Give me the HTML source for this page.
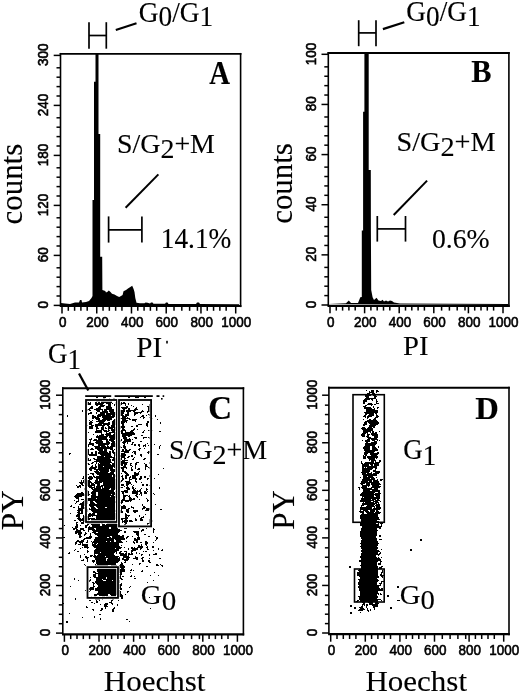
<!DOCTYPE html>
<html><head><meta charset="utf-8"><style>
html,body{margin:0;padding:0;background:#fff;overflow:hidden;}
svg{display:block;filter:grayscale(1);}
</style></head><body>
<svg width="520" height="694" viewBox="0 0 520 694">
<rect width="520" height="694" fill="#fff"/>
<g transform="matrix(0.9763 0 0 1.0298 -251.685 -287.328)"><text x="400" y="300" font-family="Liberation Serif" font-size="28" font-weight="normal" stroke="#000" stroke-width="0.12">G<tspan dy="4.6">0</tspan><tspan dy="-4.6">/G</tspan><tspan dy="4.6">1</tspan></text></g>
<g transform="matrix(0.9736 0 0 1.0340 16.903 -289.324)"><text x="400" y="300" font-family="Liberation Serif" font-size="28" font-weight="normal" stroke="#000" stroke-width="0.12">G<tspan dy="4.6">0</tspan><tspan dy="-4.6">/G</tspan><tspan dy="4.6">1</tspan></text></g>
<g transform="matrix(1.0341 0 0 1.0000 -296.668 -146.800)"><text x="400" y="300" font-family="Liberation Serif" font-size="27" font-weight="normal" stroke="#000" stroke-width="0.12">S/G<tspan dy="5">2</tspan><tspan dy="-5">+M</tspan></text></g>
<g transform="matrix(1.0461 0 0 1.0043 -21.959 -150.026)"><text x="400" y="300" font-family="Liberation Serif" font-size="27" font-weight="normal" stroke="#000" stroke-width="0.12">S/G<tspan dy="5">2</tspan><tspan dy="-5">+M</tspan></text></g>
<g transform="matrix(1.0385 0 0 1.0217 -246.510 152.070)"><text x="400" y="300" font-family="Liberation Serif" font-size="27" font-weight="normal" stroke="#000" stroke-width="0.12">S/G<tspan dy="5">2</tspan><tspan dy="-5">+M</tspan></text></g>
<g transform="matrix(0.9926 0 0 1.0526 -236.192 -67.316)"><text x="400" y="300" font-family="Liberation Serif" font-size="27.5" font-weight="normal" stroke="#000" stroke-width="0.12">14.1%</text></g>
<g transform="matrix(1.0090 0 0 0.9737 28.287 -44.592)"><text x="400" y="300" font-family="Liberation Serif" font-size="27.5" font-weight="normal" stroke="#000" stroke-width="0.12">0.6%</text></g>
<g transform="matrix(0.9273 0 0 1.0780 -161.741 -239.115)"><text x="400" y="300" font-family="Liberation Serif" font-size="31" font-weight="bold" stroke="#000" stroke-width="0.12">A</text></g>
<g transform="matrix(0.9795 0 0 1.0265 79.515 -225.708)"><text x="400" y="300" font-family="Liberation Serif" font-size="31" font-weight="bold" stroke="#000" stroke-width="0.12">B</text></g>
<g transform="matrix(1.0649 0 0 1.0571 -217.743 102.029)"><text x="400" y="300" font-family="Liberation Serif" font-size="31" font-weight="bold" stroke="#000" stroke-width="0.12">C</text></g>
<g transform="matrix(1.0537 0 0 1.0265 53.810 110.592)"><text x="400" y="300" font-family="Liberation Serif" font-size="31" font-weight="bold" stroke="#000" stroke-width="0.12">D</text></g>
<g transform="matrix(1.0417 0 0 0.9962 -394.688 -74.465)"><text x="400" y="300" font-family="Liberation Serif" font-size="31" font-weight="normal" transform="rotate(-90 400 300)" stroke="#000" stroke-width="0.12">counts</text></g>
<g transform="matrix(0.9944 0 0 0.9962 -105.475 -75.065)"><text x="400" y="300" font-family="Liberation Serif" font-size="31" font-weight="normal" transform="rotate(-90 400 300)" stroke="#000" stroke-width="0.12">counts</text></g>
<g transform="matrix(0.9878 0 0 1.0256 -258.843 49.308)"><text x="400" y="300" font-family="Liberation Serif" font-size="29.5" font-weight="normal" stroke="#000" stroke-width="0.12">PI</text></g>
<g transform="matrix(0.9714 0 0 0.9487 14.500 70.885)"><text x="400" y="300" font-family="Liberation Serif" font-size="29.5" font-weight="normal" stroke="#000" stroke-width="0.12">PI</text></g>
<g transform="matrix(1.0338 0 0 1.0000 -309.714 391.500)"><text x="400" y="300" font-family="Liberation Serif" font-size="30" font-weight="normal" stroke="#000" stroke-width="0.12">Hoechst</text></g>
<g transform="matrix(1.0338 0 0 1.0000 -48.114 391.500)"><text x="400" y="300" font-family="Liberation Serif" font-size="30" font-weight="normal" stroke="#000" stroke-width="0.12">Hoechst</text></g>
<g transform="matrix(1.0190 0 0 0.9772 -384.319 236.968)"><text x="400" y="300" font-family="Liberation Serif" font-size="32" font-weight="normal" transform="rotate(-90 400 300)" stroke="#000" stroke-width="0.12">PY</text></g>
<g transform="matrix(1.0048 0 0 0.9646 -108.305 240.356)"><text x="400" y="300" font-family="Liberation Serif" font-size="32" font-weight="normal" transform="rotate(-90 400 300)" stroke="#000" stroke-width="0.12">PY</text></g>
<g transform="matrix(1.0000 0 0 1.0538 -352.000 47.339)"><text x="400" y="300" font-family="Liberation Serif" font-size="27" font-weight="normal" stroke="#000" stroke-width="0.12">G<tspan dy="5.3">1</tspan></text></g>
<g transform="matrix(1.0774 0 0 1.0426 -290.145 291.200)"><text x="400" y="300" font-family="Liberation Serif" font-size="27" font-weight="normal" stroke="#000" stroke-width="0.12">G<tspan dy="5.3">0</tspan></text></g>
<g transform="matrix(1.0000 0 0 1.0581 3.300 141.626)"><text x="400" y="300" font-family="Liberation Serif" font-size="27" font-weight="normal" stroke="#000" stroke-width="0.12">G<tspan dy="5.3">1</tspan></text></g>
<g transform="matrix(1.0645 0 0 1.0426 -26.071 291.200)"><text x="400" y="300" font-family="Liberation Serif" font-size="27" font-weight="normal" stroke="#000" stroke-width="0.12">G<tspan dy="5.3">0</tspan></text></g>
<line x1="59.70" y1="53.90" x2="241.40" y2="53.90" stroke="#000" stroke-width="1.9"/>
<line x1="60.50" y1="52.95" x2="60.50" y2="306.00" stroke="#000" stroke-width="1.6"/>
<line x1="240.60" y1="52.95" x2="240.60" y2="307.10" stroke="#000" stroke-width="1.6"/>
<line x1="59.70" y1="306.00" x2="241.40" y2="306.00" stroke="#000" stroke-width="2.2"/>
<line x1="62.00" y1="306.00" x2="62.00" y2="313.50" stroke="#000" stroke-width="1.5"/>
<g transform="matrix(0.9300 0 0 1.0300 -312.920 17.615)"><text x="400" y="300" font-family="Liberation Sans" font-size="14.5" font-weight="normal" stroke="#000" stroke-width="0.6">0</text></g>
<line x1="68.30" y1="306.00" x2="68.30" y2="310.80" stroke="#000" stroke-width="1.5"/>
<line x1="74.60" y1="306.00" x2="74.60" y2="310.80" stroke="#000" stroke-width="1.5"/>
<line x1="80.90" y1="306.00" x2="80.90" y2="310.80" stroke="#000" stroke-width="1.5"/>
<line x1="87.20" y1="306.00" x2="87.20" y2="310.80" stroke="#000" stroke-width="1.5"/>
<line x1="96.74" y1="306.00" x2="96.74" y2="313.50" stroke="#000" stroke-width="1.5"/>
<g transform="matrix(0.9300 0 0 1.0300 -285.852 17.615)"><text x="400" y="300" font-family="Liberation Sans" font-size="14.5" font-weight="normal" stroke="#000" stroke-width="0.6">200</text></g>
<line x1="103.04" y1="306.00" x2="103.04" y2="310.80" stroke="#000" stroke-width="1.5"/>
<line x1="109.34" y1="306.00" x2="109.34" y2="310.80" stroke="#000" stroke-width="1.5"/>
<line x1="115.64" y1="306.00" x2="115.64" y2="310.80" stroke="#000" stroke-width="1.5"/>
<line x1="121.94" y1="306.00" x2="121.94" y2="310.80" stroke="#000" stroke-width="1.5"/>
<line x1="131.48" y1="306.00" x2="131.48" y2="313.50" stroke="#000" stroke-width="1.5"/>
<g transform="matrix(0.9300 0 0 1.0300 -250.880 17.615)"><text x="400" y="300" font-family="Liberation Sans" font-size="14.5" font-weight="normal" stroke="#000" stroke-width="0.6">400</text></g>
<line x1="137.78" y1="306.00" x2="137.78" y2="310.80" stroke="#000" stroke-width="1.5"/>
<line x1="144.08" y1="306.00" x2="144.08" y2="310.80" stroke="#000" stroke-width="1.5"/>
<line x1="150.38" y1="306.00" x2="150.38" y2="310.80" stroke="#000" stroke-width="1.5"/>
<line x1="156.68" y1="306.00" x2="156.68" y2="310.80" stroke="#000" stroke-width="1.5"/>
<line x1="166.22" y1="306.00" x2="166.22" y2="313.50" stroke="#000" stroke-width="1.5"/>
<g transform="matrix(0.9300 0 0 1.0300 -216.373 17.615)"><text x="400" y="300" font-family="Liberation Sans" font-size="14.5" font-weight="normal" stroke="#000" stroke-width="0.6">600</text></g>
<line x1="174.02" y1="306.00" x2="174.02" y2="310.80" stroke="#000" stroke-width="1.5"/>
<line x1="181.82" y1="306.00" x2="181.82" y2="310.80" stroke="#000" stroke-width="1.5"/>
<line x1="189.62" y1="306.00" x2="189.62" y2="310.80" stroke="#000" stroke-width="1.5"/>
<line x1="197.42" y1="306.00" x2="197.42" y2="310.80" stroke="#000" stroke-width="1.5"/>
<line x1="200.96" y1="306.00" x2="200.96" y2="313.50" stroke="#000" stroke-width="1.5"/>
<g transform="matrix(0.9300 0 0 1.0300 -181.516 17.615)"><text x="400" y="300" font-family="Liberation Sans" font-size="14.5" font-weight="normal" stroke="#000" stroke-width="0.6">800</text></g>
<line x1="207.26" y1="306.00" x2="207.26" y2="310.80" stroke="#000" stroke-width="1.5"/>
<line x1="213.56" y1="306.00" x2="213.56" y2="310.80" stroke="#000" stroke-width="1.5"/>
<line x1="219.86" y1="306.00" x2="219.86" y2="310.80" stroke="#000" stroke-width="1.5"/>
<line x1="226.16" y1="306.00" x2="226.16" y2="310.80" stroke="#000" stroke-width="1.5"/>
<line x1="235.70" y1="306.00" x2="235.70" y2="313.50" stroke="#000" stroke-width="1.5"/>
<g transform="matrix(0.9300 0 0 1.0300 -150.729 17.615)"><text x="400" y="300" font-family="Liberation Sans" font-size="14.5" font-weight="normal" stroke="#000" stroke-width="0.6">1000</text></g>
<line x1="53.70" y1="305.40" x2="60.50" y2="305.40" stroke="#000" stroke-width="1.5"/>
<g transform="matrix(1.0300 0 0 0.9300 -364.415 29.520)"><text x="400" y="300" font-family="Liberation Sans" font-size="14.5" font-weight="normal" transform="rotate(-90 400 300)" stroke="#000" stroke-width="0.6">0</text></g>
<line x1="56.50" y1="296.00" x2="60.50" y2="296.00" stroke="#000" stroke-width="1.5"/>
<line x1="56.50" y1="286.60" x2="60.50" y2="286.60" stroke="#000" stroke-width="1.5"/>
<line x1="56.50" y1="277.20" x2="60.50" y2="277.20" stroke="#000" stroke-width="1.5"/>
<line x1="56.50" y1="267.80" x2="60.50" y2="267.80" stroke="#000" stroke-width="1.5"/>
<line x1="53.70" y1="255.40" x2="60.50" y2="255.40" stroke="#000" stroke-width="1.5"/>
<g transform="matrix(1.0300 0 0 0.9300 -364.415 -16.644)"><text x="400" y="300" font-family="Liberation Sans" font-size="14.5" font-weight="normal" transform="rotate(-90 400 300)" stroke="#000" stroke-width="0.6">60</text></g>
<line x1="56.50" y1="246.00" x2="60.50" y2="246.00" stroke="#000" stroke-width="1.5"/>
<line x1="56.50" y1="236.60" x2="60.50" y2="236.60" stroke="#000" stroke-width="1.5"/>
<line x1="56.50" y1="227.20" x2="60.50" y2="227.20" stroke="#000" stroke-width="1.5"/>
<line x1="56.50" y1="217.80" x2="60.50" y2="217.80" stroke="#000" stroke-width="1.5"/>
<line x1="53.70" y1="205.40" x2="60.50" y2="205.40" stroke="#000" stroke-width="1.5"/>
<g transform="matrix(1.0300 0 0 0.9300 -364.415 -62.691)"><text x="400" y="300" font-family="Liberation Sans" font-size="14.5" font-weight="normal" transform="rotate(-90 400 300)" stroke="#000" stroke-width="0.6">120</text></g>
<line x1="56.50" y1="196.00" x2="60.50" y2="196.00" stroke="#000" stroke-width="1.5"/>
<line x1="56.50" y1="186.60" x2="60.50" y2="186.60" stroke="#000" stroke-width="1.5"/>
<line x1="56.50" y1="177.20" x2="60.50" y2="177.20" stroke="#000" stroke-width="1.5"/>
<line x1="56.50" y1="167.80" x2="60.50" y2="167.80" stroke="#000" stroke-width="1.5"/>
<line x1="53.70" y1="155.40" x2="60.50" y2="155.40" stroke="#000" stroke-width="1.5"/>
<g transform="matrix(1.0300 0 0 0.9300 -364.415 -112.691)"><text x="400" y="300" font-family="Liberation Sans" font-size="14.5" font-weight="normal" transform="rotate(-90 400 300)" stroke="#000" stroke-width="0.6">180</text></g>
<line x1="56.50" y1="146.00" x2="60.50" y2="146.00" stroke="#000" stroke-width="1.5"/>
<line x1="56.50" y1="136.60" x2="60.50" y2="136.60" stroke="#000" stroke-width="1.5"/>
<line x1="56.50" y1="127.20" x2="60.50" y2="127.20" stroke="#000" stroke-width="1.5"/>
<line x1="56.50" y1="117.80" x2="60.50" y2="117.80" stroke="#000" stroke-width="1.5"/>
<line x1="53.70" y1="105.40" x2="60.50" y2="105.40" stroke="#000" stroke-width="1.5"/>
<g transform="matrix(1.0300 0 0 0.9300 -364.415 -162.807)"><text x="400" y="300" font-family="Liberation Sans" font-size="14.5" font-weight="normal" transform="rotate(-90 400 300)" stroke="#000" stroke-width="0.6">240</text></g>
<line x1="56.50" y1="96.00" x2="60.50" y2="96.00" stroke="#000" stroke-width="1.5"/>
<line x1="56.50" y1="86.60" x2="60.50" y2="86.60" stroke="#000" stroke-width="1.5"/>
<line x1="56.50" y1="77.20" x2="60.50" y2="77.20" stroke="#000" stroke-width="1.5"/>
<line x1="56.50" y1="67.80" x2="60.50" y2="67.80" stroke="#000" stroke-width="1.5"/>
<line x1="53.70" y1="55.40" x2="60.50" y2="55.40" stroke="#000" stroke-width="1.5"/>
<g transform="matrix(1.0300 0 0 0.9300 -364.415 -212.924)"><text x="400" y="300" font-family="Liberation Sans" font-size="14.5" font-weight="normal" transform="rotate(-90 400 300)" stroke="#000" stroke-width="0.6">300</text></g>
<polygon points="61.00,305.00 61.00,303.00 65.00,303.50 70.00,304.00 75.00,302.50 79.00,302.50 80.00,300.00 81.50,300.00 82.00,302.50 86.00,302.00 89.00,301.00 91.50,298.00 92.50,296.00 92.50,200.00 94.00,200.00 94.00,81.80 95.50,81.80 95.50,54.00 98.50,54.00 98.50,134.00 100.20,134.00 100.20,256.70 102.20,256.70 102.40,290.00 105.30,291.00 105.80,292.30 107.00,292.30 108.80,290.40 110.50,292.00 112.00,293.80 114.50,294.60 117.00,296.00 119.20,297.00 121.00,296.00 122.60,295.00 123.50,291.20 126.00,290.00 128.00,288.50 130.70,286.70 132.20,285.80 133.60,289.00 134.50,292.00 135.30,298.00 136.50,302.70 140.00,303.30 144.50,303.30 145.50,302.50 147.50,302.80 150.00,303.60 151.00,302.60 152.50,302.60 153.50,303.80 165.00,303.80 166.00,302.60 167.50,302.60 168.50,304.00 196.00,304.00 197.00,302.60 199.00,302.60 200.00,304.00 239.00,304.20 239.00,305.00" fill="#000"/>
<line x1="108.60" y1="216.40" x2="108.60" y2="242.60" stroke="#000" stroke-width="1.7"/>
<line x1="141.90" y1="216.40" x2="141.90" y2="242.60" stroke="#000" stroke-width="1.7"/>
<line x1="108.60" y1="229.90" x2="141.90" y2="229.90" stroke="#000" stroke-width="1.7"/>
<line x1="125.60" y1="207.80" x2="158.40" y2="174.40" stroke="#000" stroke-width="2.0"/>
<line x1="89.00" y1="22.20" x2="89.00" y2="48.70" stroke="#000" stroke-width="1.7"/>
<line x1="106.30" y1="22.20" x2="106.30" y2="48.70" stroke="#000" stroke-width="1.7"/>
<line x1="89.00" y1="35.50" x2="106.30" y2="35.50" stroke="#000" stroke-width="1.7"/>
<line x1="115.80" y1="30.00" x2="136.50" y2="23.30" stroke="#000" stroke-width="2.2"/>
<rect x="166.20" y="340.80" width="1.60" height="2.70" fill="#000"/>
<line x1="327.50" y1="53.00" x2="509.70" y2="53.00" stroke="#000" stroke-width="1.9"/>
<line x1="328.30" y1="52.05" x2="328.30" y2="305.80" stroke="#000" stroke-width="1.6"/>
<line x1="508.90" y1="52.05" x2="508.90" y2="306.90" stroke="#000" stroke-width="1.6"/>
<line x1="327.50" y1="305.80" x2="509.70" y2="305.80" stroke="#000" stroke-width="2.2"/>
<line x1="330.00" y1="305.80" x2="330.00" y2="313.30" stroke="#000" stroke-width="1.5"/>
<g transform="matrix(0.9300 0 0 1.0300 -44.920 18.015)"><text x="400" y="300" font-family="Liberation Sans" font-size="14.5" font-weight="normal" stroke="#000" stroke-width="0.6">0</text></g>
<line x1="336.30" y1="305.80" x2="336.30" y2="310.60" stroke="#000" stroke-width="1.5"/>
<line x1="342.60" y1="305.80" x2="342.60" y2="310.60" stroke="#000" stroke-width="1.5"/>
<line x1="348.90" y1="305.80" x2="348.90" y2="310.60" stroke="#000" stroke-width="1.5"/>
<line x1="355.20" y1="305.80" x2="355.20" y2="310.60" stroke="#000" stroke-width="1.5"/>
<line x1="364.60" y1="305.80" x2="364.60" y2="313.30" stroke="#000" stroke-width="1.5"/>
<g transform="matrix(0.9300 0 0 1.0300 -17.993 18.015)"><text x="400" y="300" font-family="Liberation Sans" font-size="14.5" font-weight="normal" stroke="#000" stroke-width="0.6">200</text></g>
<line x1="370.90" y1="305.80" x2="370.90" y2="310.60" stroke="#000" stroke-width="1.5"/>
<line x1="377.20" y1="305.80" x2="377.20" y2="310.60" stroke="#000" stroke-width="1.5"/>
<line x1="383.50" y1="305.80" x2="383.50" y2="310.60" stroke="#000" stroke-width="1.5"/>
<line x1="389.80" y1="305.80" x2="389.80" y2="310.60" stroke="#000" stroke-width="1.5"/>
<line x1="399.20" y1="305.80" x2="399.20" y2="313.30" stroke="#000" stroke-width="1.5"/>
<g transform="matrix(0.9300 0 0 1.0300 16.840 18.015)"><text x="400" y="300" font-family="Liberation Sans" font-size="14.5" font-weight="normal" stroke="#000" stroke-width="0.6">400</text></g>
<line x1="405.50" y1="305.80" x2="405.50" y2="310.60" stroke="#000" stroke-width="1.5"/>
<line x1="411.80" y1="305.80" x2="411.80" y2="310.60" stroke="#000" stroke-width="1.5"/>
<line x1="418.10" y1="305.80" x2="418.10" y2="310.60" stroke="#000" stroke-width="1.5"/>
<line x1="424.40" y1="305.80" x2="424.40" y2="310.60" stroke="#000" stroke-width="1.5"/>
<line x1="433.80" y1="305.80" x2="433.80" y2="313.30" stroke="#000" stroke-width="1.5"/>
<g transform="matrix(0.9300 0 0 1.0300 51.207 18.015)"><text x="400" y="300" font-family="Liberation Sans" font-size="14.5" font-weight="normal" stroke="#000" stroke-width="0.6">600</text></g>
<line x1="441.60" y1="305.80" x2="441.60" y2="310.60" stroke="#000" stroke-width="1.5"/>
<line x1="449.40" y1="305.80" x2="449.40" y2="310.60" stroke="#000" stroke-width="1.5"/>
<line x1="457.20" y1="305.80" x2="457.20" y2="310.60" stroke="#000" stroke-width="1.5"/>
<line x1="465.00" y1="305.80" x2="465.00" y2="310.60" stroke="#000" stroke-width="1.5"/>
<line x1="468.40" y1="305.80" x2="468.40" y2="313.30" stroke="#000" stroke-width="1.5"/>
<g transform="matrix(0.9300 0 0 1.0300 85.924 18.015)"><text x="400" y="300" font-family="Liberation Sans" font-size="14.5" font-weight="normal" stroke="#000" stroke-width="0.6">800</text></g>
<line x1="474.70" y1="305.80" x2="474.70" y2="310.60" stroke="#000" stroke-width="1.5"/>
<line x1="481.00" y1="305.80" x2="481.00" y2="310.60" stroke="#000" stroke-width="1.5"/>
<line x1="487.30" y1="305.80" x2="487.30" y2="310.60" stroke="#000" stroke-width="1.5"/>
<line x1="493.60" y1="305.80" x2="493.60" y2="310.60" stroke="#000" stroke-width="1.5"/>
<line x1="503.00" y1="305.80" x2="503.00" y2="313.30" stroke="#000" stroke-width="1.5"/>
<g transform="matrix(0.9300 0 0 1.0300 116.571 18.015)"><text x="400" y="300" font-family="Liberation Sans" font-size="14.5" font-weight="normal" stroke="#000" stroke-width="0.6">1000</text></g>
<line x1="321.50" y1="305.00" x2="328.30" y2="305.00" stroke="#000" stroke-width="1.5"/>
<g transform="matrix(1.0300 0 0 0.9300 -96.215 29.120)"><text x="400" y="300" font-family="Liberation Sans" font-size="14.5" font-weight="normal" transform="rotate(-90 400 300)" stroke="#000" stroke-width="0.6">0</text></g>
<line x1="324.30" y1="295.60" x2="328.30" y2="295.60" stroke="#000" stroke-width="1.5"/>
<line x1="324.30" y1="286.20" x2="328.30" y2="286.20" stroke="#000" stroke-width="1.5"/>
<line x1="324.30" y1="276.80" x2="328.30" y2="276.80" stroke="#000" stroke-width="1.5"/>
<line x1="324.30" y1="267.40" x2="328.30" y2="267.40" stroke="#000" stroke-width="1.5"/>
<line x1="321.50" y1="254.86" x2="328.30" y2="254.86" stroke="#000" stroke-width="1.5"/>
<g transform="matrix(1.0300 0 0 0.9300 -96.215 -17.184)"><text x="400" y="300" font-family="Liberation Sans" font-size="14.5" font-weight="normal" transform="rotate(-90 400 300)" stroke="#000" stroke-width="0.6">20</text></g>
<line x1="324.30" y1="245.46" x2="328.30" y2="245.46" stroke="#000" stroke-width="1.5"/>
<line x1="324.30" y1="236.06" x2="328.30" y2="236.06" stroke="#000" stroke-width="1.5"/>
<line x1="324.30" y1="226.66" x2="328.30" y2="226.66" stroke="#000" stroke-width="1.5"/>
<line x1="324.30" y1="217.26" x2="328.30" y2="217.26" stroke="#000" stroke-width="1.5"/>
<line x1="321.50" y1="204.72" x2="328.30" y2="204.72" stroke="#000" stroke-width="1.5"/>
<g transform="matrix(1.0300 0 0 0.9300 -96.215 -67.556)"><text x="400" y="300" font-family="Liberation Sans" font-size="14.5" font-weight="normal" transform="rotate(-90 400 300)" stroke="#000" stroke-width="0.6">40</text></g>
<line x1="324.30" y1="195.32" x2="328.30" y2="195.32" stroke="#000" stroke-width="1.5"/>
<line x1="324.30" y1="185.92" x2="328.30" y2="185.92" stroke="#000" stroke-width="1.5"/>
<line x1="324.30" y1="176.52" x2="328.30" y2="176.52" stroke="#000" stroke-width="1.5"/>
<line x1="324.30" y1="167.12" x2="328.30" y2="167.12" stroke="#000" stroke-width="1.5"/>
<line x1="321.50" y1="154.58" x2="328.30" y2="154.58" stroke="#000" stroke-width="1.5"/>
<g transform="matrix(1.0300 0 0 0.9300 -96.215 -117.464)"><text x="400" y="300" font-family="Liberation Sans" font-size="14.5" font-weight="normal" transform="rotate(-90 400 300)" stroke="#000" stroke-width="0.6">60</text></g>
<line x1="324.30" y1="145.18" x2="328.30" y2="145.18" stroke="#000" stroke-width="1.5"/>
<line x1="324.30" y1="135.78" x2="328.30" y2="135.78" stroke="#000" stroke-width="1.5"/>
<line x1="324.30" y1="126.38" x2="328.30" y2="126.38" stroke="#000" stroke-width="1.5"/>
<line x1="324.30" y1="116.98" x2="328.30" y2="116.98" stroke="#000" stroke-width="1.5"/>
<line x1="321.50" y1="104.44" x2="328.30" y2="104.44" stroke="#000" stroke-width="1.5"/>
<g transform="matrix(1.0300 0 0 0.9300 -96.215 -167.720)"><text x="400" y="300" font-family="Liberation Sans" font-size="14.5" font-weight="normal" transform="rotate(-90 400 300)" stroke="#000" stroke-width="0.6">80</text></g>
<line x1="324.30" y1="95.04" x2="328.30" y2="95.04" stroke="#000" stroke-width="1.5"/>
<line x1="324.30" y1="85.64" x2="328.30" y2="85.64" stroke="#000" stroke-width="1.5"/>
<line x1="324.30" y1="76.24" x2="328.30" y2="76.24" stroke="#000" stroke-width="1.5"/>
<line x1="324.30" y1="66.84" x2="328.30" y2="66.84" stroke="#000" stroke-width="1.5"/>
<line x1="321.50" y1="54.30" x2="328.30" y2="54.30" stroke="#000" stroke-width="1.5"/>
<g transform="matrix(1.0300 0 0 0.9300 -96.215 -213.791)"><text x="400" y="300" font-family="Liberation Sans" font-size="14.5" font-weight="normal" transform="rotate(-90 400 300)" stroke="#000" stroke-width="0.6">100</text></g>
<polygon points="329.00,304.00 340.00,303.60 346.00,303.20 348.80,300.40 351.00,303.00 358.00,303.00 360.30,297.30 361.80,297.00 361.80,230.50 363.10,230.50 363.10,111.80 364.40,111.80 364.40,53.00 368.70,53.00 368.70,170.00 370.80,170.00 370.90,230.50 371.20,290.00 372.60,297.30 374.00,300.00 376.50,297.80 378.50,300.50 381.00,301.00 382.50,299.80 384.00,301.50 386.00,300.50 388.00,301.50 390.00,300.60 392.00,301.00 394.00,302.50 400.00,303.50 508.00,304.00 508.00,305.00" fill="#000"/>
<line x1="377.30" y1="216.00" x2="377.30" y2="241.60" stroke="#000" stroke-width="1.7"/>
<line x1="405.50" y1="216.00" x2="405.50" y2="241.60" stroke="#000" stroke-width="1.7"/>
<line x1="377.30" y1="228.90" x2="405.50" y2="228.90" stroke="#000" stroke-width="1.7"/>
<line x1="393.70" y1="215.00" x2="427.10" y2="180.60" stroke="#000" stroke-width="2.0"/>
<line x1="358.70" y1="20.20" x2="358.70" y2="46.20" stroke="#000" stroke-width="1.7"/>
<line x1="376.00" y1="20.20" x2="376.00" y2="46.20" stroke="#000" stroke-width="1.7"/>
<line x1="358.70" y1="32.90" x2="376.00" y2="32.90" stroke="#000" stroke-width="1.7"/>
<line x1="382.90" y1="29.10" x2="404.30" y2="22.20" stroke="#000" stroke-width="2.2"/>
<line x1="62.00" y1="388.20" x2="244.20" y2="388.20" stroke="#000" stroke-width="1.9"/>
<line x1="62.80" y1="387.25" x2="62.80" y2="634.30" stroke="#000" stroke-width="1.6"/>
<line x1="243.40" y1="387.25" x2="243.40" y2="635.40" stroke="#000" stroke-width="1.6"/>
<line x1="62.00" y1="634.30" x2="244.20" y2="634.30" stroke="#000" stroke-width="2.2"/>
<line x1="64.40" y1="634.30" x2="64.40" y2="641.80" stroke="#000" stroke-width="1.5"/>
<g transform="matrix(0.9300 0 0 1.0300 -310.520 345.715)"><text x="400" y="300" font-family="Liberation Sans" font-size="14.5" font-weight="normal" stroke="#000" stroke-width="0.6">0</text></g>
<line x1="70.70" y1="634.30" x2="70.70" y2="639.10" stroke="#000" stroke-width="1.5"/>
<line x1="77.00" y1="634.30" x2="77.00" y2="639.10" stroke="#000" stroke-width="1.5"/>
<line x1="83.30" y1="634.30" x2="83.30" y2="639.10" stroke="#000" stroke-width="1.5"/>
<line x1="89.60" y1="634.30" x2="89.60" y2="639.10" stroke="#000" stroke-width="1.5"/>
<line x1="99.00" y1="634.30" x2="99.00" y2="641.80" stroke="#000" stroke-width="1.5"/>
<g transform="matrix(0.9300 0 0 1.0300 -283.592 345.715)"><text x="400" y="300" font-family="Liberation Sans" font-size="14.5" font-weight="normal" stroke="#000" stroke-width="0.6">200</text></g>
<line x1="105.30" y1="634.30" x2="105.30" y2="639.10" stroke="#000" stroke-width="1.5"/>
<line x1="111.60" y1="634.30" x2="111.60" y2="639.10" stroke="#000" stroke-width="1.5"/>
<line x1="117.90" y1="634.30" x2="117.90" y2="639.10" stroke="#000" stroke-width="1.5"/>
<line x1="124.20" y1="634.30" x2="124.20" y2="639.10" stroke="#000" stroke-width="1.5"/>
<line x1="133.60" y1="634.30" x2="133.60" y2="641.80" stroke="#000" stroke-width="1.5"/>
<g transform="matrix(0.9300 0 0 1.0300 -248.760 345.715)"><text x="400" y="300" font-family="Liberation Sans" font-size="14.5" font-weight="normal" stroke="#000" stroke-width="0.6">400</text></g>
<line x1="139.90" y1="634.30" x2="139.90" y2="639.10" stroke="#000" stroke-width="1.5"/>
<line x1="146.20" y1="634.30" x2="146.20" y2="639.10" stroke="#000" stroke-width="1.5"/>
<line x1="152.50" y1="634.30" x2="152.50" y2="639.10" stroke="#000" stroke-width="1.5"/>
<line x1="158.80" y1="634.30" x2="158.80" y2="639.10" stroke="#000" stroke-width="1.5"/>
<line x1="168.20" y1="634.30" x2="168.20" y2="641.80" stroke="#000" stroke-width="1.5"/>
<g transform="matrix(0.9300 0 0 1.0300 -214.393 345.715)"><text x="400" y="300" font-family="Liberation Sans" font-size="14.5" font-weight="normal" stroke="#000" stroke-width="0.6">600</text></g>
<line x1="176.00" y1="634.30" x2="176.00" y2="639.10" stroke="#000" stroke-width="1.5"/>
<line x1="183.80" y1="634.30" x2="183.80" y2="639.10" stroke="#000" stroke-width="1.5"/>
<line x1="191.60" y1="634.30" x2="191.60" y2="639.10" stroke="#000" stroke-width="1.5"/>
<line x1="199.40" y1="634.30" x2="199.40" y2="639.10" stroke="#000" stroke-width="1.5"/>
<line x1="202.80" y1="634.30" x2="202.80" y2="641.80" stroke="#000" stroke-width="1.5"/>
<g transform="matrix(0.9300 0 0 1.0300 -179.676 345.715)"><text x="400" y="300" font-family="Liberation Sans" font-size="14.5" font-weight="normal" stroke="#000" stroke-width="0.6">800</text></g>
<line x1="209.10" y1="634.30" x2="209.10" y2="639.10" stroke="#000" stroke-width="1.5"/>
<line x1="215.40" y1="634.30" x2="215.40" y2="639.10" stroke="#000" stroke-width="1.5"/>
<line x1="221.70" y1="634.30" x2="221.70" y2="639.10" stroke="#000" stroke-width="1.5"/>
<line x1="228.00" y1="634.30" x2="228.00" y2="639.10" stroke="#000" stroke-width="1.5"/>
<line x1="237.40" y1="634.30" x2="237.40" y2="641.80" stroke="#000" stroke-width="1.5"/>
<g transform="matrix(0.9300 0 0 1.0300 -149.029 345.715)"><text x="400" y="300" font-family="Liberation Sans" font-size="14.5" font-weight="normal" stroke="#000" stroke-width="0.6">1000</text></g>
<line x1="56.00" y1="633.10" x2="62.80" y2="633.10" stroke="#000" stroke-width="1.5"/>
<g transform="matrix(1.0300 0 0 0.9300 -361.715 357.220)"><text x="400" y="300" font-family="Liberation Sans" font-size="14.5" font-weight="normal" transform="rotate(-90 400 300)" stroke="#000" stroke-width="0.6">0</text></g>
<line x1="58.80" y1="623.70" x2="62.80" y2="623.70" stroke="#000" stroke-width="1.5"/>
<line x1="58.80" y1="614.30" x2="62.80" y2="614.30" stroke="#000" stroke-width="1.5"/>
<line x1="58.80" y1="604.90" x2="62.80" y2="604.90" stroke="#000" stroke-width="1.5"/>
<line x1="58.80" y1="595.50" x2="62.80" y2="595.50" stroke="#000" stroke-width="1.5"/>
<line x1="56.00" y1="585.52" x2="62.80" y2="585.52" stroke="#000" stroke-width="1.5"/>
<g transform="matrix(1.0300 0 0 0.9300 -361.715 317.312)"><text x="400" y="300" font-family="Liberation Sans" font-size="14.5" font-weight="normal" transform="rotate(-90 400 300)" stroke="#000" stroke-width="0.6">200</text></g>
<line x1="58.80" y1="576.12" x2="62.80" y2="576.12" stroke="#000" stroke-width="1.5"/>
<line x1="58.80" y1="566.72" x2="62.80" y2="566.72" stroke="#000" stroke-width="1.5"/>
<line x1="58.80" y1="557.32" x2="62.80" y2="557.32" stroke="#000" stroke-width="1.5"/>
<line x1="58.80" y1="547.92" x2="62.80" y2="547.92" stroke="#000" stroke-width="1.5"/>
<line x1="56.00" y1="537.94" x2="62.80" y2="537.94" stroke="#000" stroke-width="1.5"/>
<g transform="matrix(1.0300 0 0 0.9300 -361.715 269.500)"><text x="400" y="300" font-family="Liberation Sans" font-size="14.5" font-weight="normal" transform="rotate(-90 400 300)" stroke="#000" stroke-width="0.6">400</text></g>
<line x1="58.80" y1="528.54" x2="62.80" y2="528.54" stroke="#000" stroke-width="1.5"/>
<line x1="58.80" y1="519.14" x2="62.80" y2="519.14" stroke="#000" stroke-width="1.5"/>
<line x1="58.80" y1="509.74" x2="62.80" y2="509.74" stroke="#000" stroke-width="1.5"/>
<line x1="58.80" y1="500.34" x2="62.80" y2="500.34" stroke="#000" stroke-width="1.5"/>
<line x1="56.00" y1="490.36" x2="62.80" y2="490.36" stroke="#000" stroke-width="1.5"/>
<g transform="matrix(1.0300 0 0 0.9300 -361.715 222.152)"><text x="400" y="300" font-family="Liberation Sans" font-size="14.5" font-weight="normal" transform="rotate(-90 400 300)" stroke="#000" stroke-width="0.6">600</text></g>
<line x1="58.80" y1="480.96" x2="62.80" y2="480.96" stroke="#000" stroke-width="1.5"/>
<line x1="58.80" y1="471.56" x2="62.80" y2="471.56" stroke="#000" stroke-width="1.5"/>
<line x1="58.80" y1="462.16" x2="62.80" y2="462.16" stroke="#000" stroke-width="1.5"/>
<line x1="58.80" y1="452.76" x2="62.80" y2="452.76" stroke="#000" stroke-width="1.5"/>
<line x1="56.00" y1="442.78" x2="62.80" y2="442.78" stroke="#000" stroke-width="1.5"/>
<g transform="matrix(1.0300 0 0 0.9300 -361.715 174.456)"><text x="400" y="300" font-family="Liberation Sans" font-size="14.5" font-weight="normal" transform="rotate(-90 400 300)" stroke="#000" stroke-width="0.6">800</text></g>
<line x1="58.80" y1="433.38" x2="62.80" y2="433.38" stroke="#000" stroke-width="1.5"/>
<line x1="58.80" y1="423.98" x2="62.80" y2="423.98" stroke="#000" stroke-width="1.5"/>
<line x1="58.80" y1="414.58" x2="62.80" y2="414.58" stroke="#000" stroke-width="1.5"/>
<line x1="58.80" y1="405.18" x2="62.80" y2="405.18" stroke="#000" stroke-width="1.5"/>
<line x1="56.00" y1="395.20" x2="62.80" y2="395.20" stroke="#000" stroke-width="1.5"/>
<g transform="matrix(1.0300 0 0 0.9300 -361.715 130.829)"><text x="400" y="300" font-family="Liberation Sans" font-size="14.5" font-weight="normal" transform="rotate(-90 400 300)" stroke="#000" stroke-width="0.6">1000</text></g>
<line x1="79.00" y1="373.50" x2="88.30" y2="390.50" stroke="#000" stroke-width="2.3"/>
<line x1="328.10" y1="387.80" x2="509.80" y2="387.80" stroke="#000" stroke-width="1.9"/>
<line x1="328.90" y1="386.85" x2="328.90" y2="634.20" stroke="#000" stroke-width="1.6"/>
<line x1="509.00" y1="386.85" x2="509.00" y2="635.30" stroke="#000" stroke-width="1.6"/>
<line x1="328.10" y1="634.20" x2="509.80" y2="634.20" stroke="#000" stroke-width="2.2"/>
<line x1="330.70" y1="634.20" x2="330.70" y2="641.70" stroke="#000" stroke-width="1.5"/>
<g transform="matrix(0.9300 0 0 1.0300 -44.220 345.815)"><text x="400" y="300" font-family="Liberation Sans" font-size="14.5" font-weight="normal" stroke="#000" stroke-width="0.6">0</text></g>
<line x1="337.00" y1="634.20" x2="337.00" y2="639.00" stroke="#000" stroke-width="1.5"/>
<line x1="343.30" y1="634.20" x2="343.30" y2="639.00" stroke="#000" stroke-width="1.5"/>
<line x1="349.60" y1="634.20" x2="349.60" y2="639.00" stroke="#000" stroke-width="1.5"/>
<line x1="355.90" y1="634.20" x2="355.90" y2="639.00" stroke="#000" stroke-width="1.5"/>
<line x1="365.30" y1="634.20" x2="365.30" y2="641.70" stroke="#000" stroke-width="1.5"/>
<g transform="matrix(0.9300 0 0 1.0300 -17.293 345.815)"><text x="400" y="300" font-family="Liberation Sans" font-size="14.5" font-weight="normal" stroke="#000" stroke-width="0.6">200</text></g>
<line x1="371.60" y1="634.20" x2="371.60" y2="639.00" stroke="#000" stroke-width="1.5"/>
<line x1="377.90" y1="634.20" x2="377.90" y2="639.00" stroke="#000" stroke-width="1.5"/>
<line x1="384.20" y1="634.20" x2="384.20" y2="639.00" stroke="#000" stroke-width="1.5"/>
<line x1="390.50" y1="634.20" x2="390.50" y2="639.00" stroke="#000" stroke-width="1.5"/>
<line x1="399.90" y1="634.20" x2="399.90" y2="641.70" stroke="#000" stroke-width="1.5"/>
<g transform="matrix(0.9300 0 0 1.0300 17.540 345.815)"><text x="400" y="300" font-family="Liberation Sans" font-size="14.5" font-weight="normal" stroke="#000" stroke-width="0.6">400</text></g>
<line x1="406.20" y1="634.20" x2="406.20" y2="639.00" stroke="#000" stroke-width="1.5"/>
<line x1="412.50" y1="634.20" x2="412.50" y2="639.00" stroke="#000" stroke-width="1.5"/>
<line x1="418.80" y1="634.20" x2="418.80" y2="639.00" stroke="#000" stroke-width="1.5"/>
<line x1="425.10" y1="634.20" x2="425.10" y2="639.00" stroke="#000" stroke-width="1.5"/>
<line x1="434.50" y1="634.20" x2="434.50" y2="641.70" stroke="#000" stroke-width="1.5"/>
<g transform="matrix(0.9300 0 0 1.0300 51.907 345.815)"><text x="400" y="300" font-family="Liberation Sans" font-size="14.5" font-weight="normal" stroke="#000" stroke-width="0.6">600</text></g>
<line x1="442.30" y1="634.20" x2="442.30" y2="639.00" stroke="#000" stroke-width="1.5"/>
<line x1="450.10" y1="634.20" x2="450.10" y2="639.00" stroke="#000" stroke-width="1.5"/>
<line x1="457.90" y1="634.20" x2="457.90" y2="639.00" stroke="#000" stroke-width="1.5"/>
<line x1="465.70" y1="634.20" x2="465.70" y2="639.00" stroke="#000" stroke-width="1.5"/>
<line x1="469.10" y1="634.20" x2="469.10" y2="641.70" stroke="#000" stroke-width="1.5"/>
<g transform="matrix(0.9300 0 0 1.0300 86.624 345.815)"><text x="400" y="300" font-family="Liberation Sans" font-size="14.5" font-weight="normal" stroke="#000" stroke-width="0.6">800</text></g>
<line x1="475.40" y1="634.20" x2="475.40" y2="639.00" stroke="#000" stroke-width="1.5"/>
<line x1="481.70" y1="634.20" x2="481.70" y2="639.00" stroke="#000" stroke-width="1.5"/>
<line x1="488.00" y1="634.20" x2="488.00" y2="639.00" stroke="#000" stroke-width="1.5"/>
<line x1="494.30" y1="634.20" x2="494.30" y2="639.00" stroke="#000" stroke-width="1.5"/>
<line x1="503.70" y1="634.20" x2="503.70" y2="641.70" stroke="#000" stroke-width="1.5"/>
<g transform="matrix(0.9300 0 0 1.0300 117.271 345.815)"><text x="400" y="300" font-family="Liberation Sans" font-size="14.5" font-weight="normal" stroke="#000" stroke-width="0.6">1000</text></g>
<line x1="322.10" y1="633.00" x2="328.90" y2="633.00" stroke="#000" stroke-width="1.5"/>
<g transform="matrix(1.0300 0 0 0.9300 -95.215 357.120)"><text x="400" y="300" font-family="Liberation Sans" font-size="14.5" font-weight="normal" transform="rotate(-90 400 300)" stroke="#000" stroke-width="0.6">0</text></g>
<line x1="324.90" y1="623.60" x2="328.90" y2="623.60" stroke="#000" stroke-width="1.5"/>
<line x1="324.90" y1="614.20" x2="328.90" y2="614.20" stroke="#000" stroke-width="1.5"/>
<line x1="324.90" y1="604.80" x2="328.90" y2="604.80" stroke="#000" stroke-width="1.5"/>
<line x1="324.90" y1="595.40" x2="328.90" y2="595.40" stroke="#000" stroke-width="1.5"/>
<line x1="322.10" y1="585.44" x2="328.90" y2="585.44" stroke="#000" stroke-width="1.5"/>
<g transform="matrix(1.0300 0 0 0.9300 -95.215 317.232)"><text x="400" y="300" font-family="Liberation Sans" font-size="14.5" font-weight="normal" transform="rotate(-90 400 300)" stroke="#000" stroke-width="0.6">200</text></g>
<line x1="324.90" y1="576.04" x2="328.90" y2="576.04" stroke="#000" stroke-width="1.5"/>
<line x1="324.90" y1="566.64" x2="328.90" y2="566.64" stroke="#000" stroke-width="1.5"/>
<line x1="324.90" y1="557.24" x2="328.90" y2="557.24" stroke="#000" stroke-width="1.5"/>
<line x1="324.90" y1="547.84" x2="328.90" y2="547.84" stroke="#000" stroke-width="1.5"/>
<line x1="322.10" y1="537.88" x2="328.90" y2="537.88" stroke="#000" stroke-width="1.5"/>
<g transform="matrix(1.0300 0 0 0.9300 -95.215 269.440)"><text x="400" y="300" font-family="Liberation Sans" font-size="14.5" font-weight="normal" transform="rotate(-90 400 300)" stroke="#000" stroke-width="0.6">400</text></g>
<line x1="324.90" y1="528.48" x2="328.90" y2="528.48" stroke="#000" stroke-width="1.5"/>
<line x1="324.90" y1="519.08" x2="328.90" y2="519.08" stroke="#000" stroke-width="1.5"/>
<line x1="324.90" y1="509.68" x2="328.90" y2="509.68" stroke="#000" stroke-width="1.5"/>
<line x1="324.90" y1="500.28" x2="328.90" y2="500.28" stroke="#000" stroke-width="1.5"/>
<line x1="322.10" y1="490.32" x2="328.90" y2="490.32" stroke="#000" stroke-width="1.5"/>
<g transform="matrix(1.0300 0 0 0.9300 -95.215 222.112)"><text x="400" y="300" font-family="Liberation Sans" font-size="14.5" font-weight="normal" transform="rotate(-90 400 300)" stroke="#000" stroke-width="0.6">600</text></g>
<line x1="324.90" y1="480.92" x2="328.90" y2="480.92" stroke="#000" stroke-width="1.5"/>
<line x1="324.90" y1="471.52" x2="328.90" y2="471.52" stroke="#000" stroke-width="1.5"/>
<line x1="324.90" y1="462.12" x2="328.90" y2="462.12" stroke="#000" stroke-width="1.5"/>
<line x1="324.90" y1="452.72" x2="328.90" y2="452.72" stroke="#000" stroke-width="1.5"/>
<line x1="322.10" y1="442.76" x2="328.90" y2="442.76" stroke="#000" stroke-width="1.5"/>
<g transform="matrix(1.0300 0 0 0.9300 -95.215 174.436)"><text x="400" y="300" font-family="Liberation Sans" font-size="14.5" font-weight="normal" transform="rotate(-90 400 300)" stroke="#000" stroke-width="0.6">800</text></g>
<line x1="324.90" y1="433.36" x2="328.90" y2="433.36" stroke="#000" stroke-width="1.5"/>
<line x1="324.90" y1="423.96" x2="328.90" y2="423.96" stroke="#000" stroke-width="1.5"/>
<line x1="324.90" y1="414.56" x2="328.90" y2="414.56" stroke="#000" stroke-width="1.5"/>
<line x1="324.90" y1="405.16" x2="328.90" y2="405.16" stroke="#000" stroke-width="1.5"/>
<line x1="322.10" y1="395.20" x2="328.90" y2="395.20" stroke="#000" stroke-width="1.5"/>
<g transform="matrix(1.0300 0 0 0.9300 -95.215 130.829)"><text x="400" y="300" font-family="Liberation Sans" font-size="14.5" font-weight="normal" transform="rotate(-90 400 300)" stroke="#000" stroke-width="0.6">1000</text></g>
<path fill="#000" d="M366 390h1v1h-1zM371 390h3v1h-3zM376 390h2v1h-2zM369 391h1v1h-1zM371 391h3v1h-3zM376 391h3v1h-3zM369 392h5v1h-5zM376 392h1v1h-1zM367 393h3v1h-3zM372 393h3v1h-3zM364 394h2v1h-2zM367 394h3v1h-3zM373 394h2v1h-2zM365 395h6v1h-6zM373 395h3v1h-3zM365 396h4v1h-4zM374 396h3v1h-3zM366 397h3v1h-3zM374 397h2v1h-2zM103 398h2v1h-2zM109 398h1v1h-1zM113 398h2v1h-2zM365 398h11v1h-11zM95 399h1v1h-1zM101 399h2v1h-2zM104 399h1v1h-1zM109 399h7v1h-7zM125 399h1v1h-1zM364 399h6v1h-6zM371 399h2v1h-2zM376 399h1v1h-1zM99 400h1v1h-1zM101 400h2v1h-2zM104 400h1v1h-1zM109 400h5v1h-5zM118 400h2v1h-2zM121 400h1v1h-1zM125 400h1v1h-1zM363 400h4v1h-4zM372 400h1v1h-1zM376 400h1v1h-1zM85 401h3v1h-3zM96 401h4v1h-4zM101 401h11v1h-11zM363 401h4v1h-4zM376 401h2v1h-2zM85 402h1v1h-1zM87 402h2v1h-2zM90 402h1v1h-1zM95 402h2v1h-2zM98 402h2v1h-2zM101 402h11v1h-11zM115 402h1v1h-1zM121 402h1v1h-1zM123 402h2v1h-2zM363 402h2v1h-2zM376 402h1v1h-1zM87 403h4v1h-4zM95 403h9v1h-9zM106 403h5v1h-5zM112 403h1v1h-1zM115 403h1v1h-1zM119 403h7v1h-7zM128 403h1v1h-1zM363 403h2v1h-2zM368 403h4v1h-4zM376 403h3v1h-3zM87 404h4v1h-4zM95 404h8v1h-8zM108 404h3v1h-3zM114 404h2v1h-2zM118 404h4v1h-4zM125 404h1v1h-1zM128 404h1v1h-1zM142 404h1v1h-1zM149 404h2v1h-2zM367 404h6v1h-6zM374 404h2v1h-2zM96 405h2v1h-2zM100 405h5v1h-5zM108 405h3v1h-3zM114 405h1v1h-1zM120 405h1v1h-1zM125 405h1v1h-1zM131 405h1v1h-1zM149 405h1v1h-1zM365 405h2v1h-2zM371 405h1v1h-1zM91 406h2v1h-2zM99 406h5v1h-5zM106 406h5v1h-5zM126 406h2v1h-2zM133 406h1v1h-1zM147 406h4v1h-4zM363 406h3v1h-3zM373 406h1v1h-1zM90 407h3v1h-3zM98 407h3v1h-3zM106 407h6v1h-6zM121 407h7v1h-7zM136 407h1v1h-1zM148 407h3v1h-3zM364 407h7v1h-7zM373 407h1v1h-1zM377 407h2v1h-2zM89 408h4v1h-4zM96 408h5v1h-5zM106 408h6v1h-6zM122 408h5v1h-5zM128 408h2v1h-2zM135 408h2v1h-2zM148 408h3v1h-3zM364 408h8v1h-8zM374 408h1v1h-1zM377 408h1v1h-1zM86 409h4v1h-4zM94 409h9v1h-9zM104 409h10v1h-10zM123 409h2v1h-2zM128 409h2v1h-2zM134 409h4v1h-4zM148 409h3v1h-3zM366 409h9v1h-9zM82 410h1v1h-1zM87 410h1v1h-1zM89 410h2v1h-2zM96 410h4v1h-4zM102 410h1v1h-1zM104 410h3v1h-3zM109 410h5v1h-5zM117 410h8v1h-8zM126 410h10v1h-10zM142 410h1v1h-1zM148 410h2v1h-2zM366 410h12v1h-12zM82 411h1v1h-1zM97 411h3v1h-3zM102 411h6v1h-6zM109 411h5v1h-5zM119 411h6v1h-6zM126 411h5v1h-5zM133 411h2v1h-2zM141 411h3v1h-3zM147 411h3v1h-3zM366 411h12v1h-12zM90 412h2v1h-2zM96 412h1v1h-1zM100 412h8v1h-8zM110 412h6v1h-6zM120 412h4v1h-4zM127 412h2v1h-2zM134 412h8v1h-8zM147 412h1v1h-1zM364 412h14v1h-14zM88 413h4v1h-4zM96 413h1v1h-1zM100 413h5v1h-5zM106 413h11v1h-11zM120 413h4v1h-4zM127 413h2v1h-2zM134 413h4v1h-4zM140 413h1v1h-1zM365 413h9v1h-9zM375 413h2v1h-2zM88 414h1v1h-1zM98 414h7v1h-7zM106 414h11v1h-11zM120 414h3v1h-3zM125 414h4v1h-4zM134 414h2v1h-2zM148 414h2v1h-2zM365 414h2v1h-2zM369 414h5v1h-5zM376 414h1v1h-1zM67 415h1v1h-1zM92 415h2v1h-2zM97 415h14v1h-14zM112 415h3v1h-3zM119 415h5v1h-5zM125 415h4v1h-4zM134 415h1v1h-1zM142 415h2v1h-2zM146 415h1v1h-1zM149 415h1v1h-1zM155 415h1v1h-1zM364 415h2v1h-2zM368 415h6v1h-6zM376 415h2v1h-2zM67 416h1v1h-1zM92 416h4v1h-4zM97 416h4v1h-4zM102 416h13v1h-13zM122 416h5v1h-5zM141 416h3v1h-3zM155 416h1v1h-1zM363 416h3v1h-3zM367 416h5v1h-5zM376 416h3v1h-3zM92 417h7v1h-7zM102 417h12v1h-12zM122 417h4v1h-4zM127 417h1v1h-1zM140 417h1v1h-1zM143 417h2v1h-2zM149 417h2v1h-2zM365 417h1v1h-1zM367 417h2v1h-2zM375 417h3v1h-3zM92 418h2v1h-2zM95 418h5v1h-5zM103 418h9v1h-9zM120 418h10v1h-10zM143 418h1v1h-1zM151 418h2v1h-2zM367 418h1v1h-1zM374 418h2v1h-2zM96 419h4v1h-4zM102 419h10v1h-10zM114 419h2v1h-2zM122 419h4v1h-4zM129 419h2v1h-2zM132 419h5v1h-5zM157 419h1v1h-1zM363 419h1v1h-1zM369 419h2v1h-2zM373 419h3v1h-3zM89 420h1v1h-1zM92 420h1v1h-1zM98 420h8v1h-8zM107 420h3v1h-3zM113 420h3v1h-3zM122 420h6v1h-6zM132 420h4v1h-4zM150 420h1v1h-1zM367 420h10v1h-10zM90 421h2v1h-2zM96 421h9v1h-9zM112 421h4v1h-4zM121 421h6v1h-6zM135 421h1v1h-1zM147 421h2v1h-2zM365 421h13v1h-13zM89 422h4v1h-4zM99 422h5v1h-5zM108 422h2v1h-2zM112 422h5v1h-5zM121 422h4v1h-4zM126 422h1v1h-1zM147 422h2v1h-2zM160 422h1v1h-1zM364 422h3v1h-3zM368 422h11v1h-11zM89 423h3v1h-3zM98 423h12v1h-12zM112 423h5v1h-5zM121 423h3v1h-3zM146 423h2v1h-2zM160 423h1v1h-1zM364 423h3v1h-3zM369 423h10v1h-10zM89 424h3v1h-3zM95 424h7v1h-7zM103 424h7v1h-7zM112 424h6v1h-6zM122 424h2v1h-2zM138 424h4v1h-4zM146 424h2v1h-2zM363 424h4v1h-4zM370 424h8v1h-8zM87 425h1v1h-1zM91 425h3v1h-3zM95 425h10v1h-10zM107 425h2v1h-2zM111 425h4v1h-4zM116 425h3v1h-3zM122 425h2v1h-2zM136 425h2v1h-2zM146 425h2v1h-2zM363 425h2v1h-2zM369 425h7v1h-7zM89 426h4v1h-4zM95 426h3v1h-3zM102 426h2v1h-2zM108 426h2v1h-2zM111 426h4v1h-4zM120 426h5v1h-5zM131 426h2v1h-2zM136 426h2v1h-2zM147 426h1v1h-1zM369 426h6v1h-6zM89 427h4v1h-4zM96 427h2v1h-2zM101 427h3v1h-3zM105 427h1v1h-1zM108 427h8v1h-8zM120 427h5v1h-5zM362 427h3v1h-3zM368 427h4v1h-4zM373 427h2v1h-2zM89 428h4v1h-4zM96 428h3v1h-3zM101 428h3v1h-3zM105 428h2v1h-2zM108 428h5v1h-5zM114 428h3v1h-3zM120 428h1v1h-1zM122 428h2v1h-2zM134 428h1v1h-1zM361 428h5v1h-5zM367 428h6v1h-6zM96 429h1v1h-1zM101 429h3v1h-3zM108 429h1v1h-1zM111 429h6v1h-6zM122 429h3v1h-3zM133 429h2v1h-2zM137 429h1v1h-1zM362 429h11v1h-11zM96 430h6v1h-6zM103 430h4v1h-4zM108 430h2v1h-2zM111 430h5v1h-5zM121 430h5v1h-5zM131 430h3v1h-3zM144 430h1v1h-1zM148 430h3v1h-3zM152 430h1v1h-1zM363 430h10v1h-10zM95 431h7v1h-7zM104 431h5v1h-5zM112 431h3v1h-3zM120 431h3v1h-3zM125 431h1v1h-1zM130 431h3v1h-3zM143 431h1v1h-1zM159 431h2v1h-2zM363 431h8v1h-8zM372 431h2v1h-2zM379 431h1v1h-1zM88 432h1v1h-1zM95 432h7v1h-7zM106 432h1v1h-1zM109 432h7v1h-7zM121 432h2v1h-2zM125 432h9v1h-9zM142 432h2v1h-2zM363 432h5v1h-5zM370 432h1v1h-1zM372 432h2v1h-2zM375 432h2v1h-2zM101 433h1v1h-1zM106 433h5v1h-5zM114 433h3v1h-3zM121 433h14v1h-14zM362 433h4v1h-4zM367 433h1v1h-1zM371 433h6v1h-6zM93 434h1v1h-1zM101 434h3v1h-3zM105 434h6v1h-6zM113 434h4v1h-4zM122 434h13v1h-13zM151 434h1v1h-1zM361 434h4v1h-4zM367 434h3v1h-3zM371 434h7v1h-7zM97 435h1v1h-1zM99 435h5v1h-5zM106 435h13v1h-13zM122 435h10v1h-10zM141 435h2v1h-2zM151 435h1v1h-1zM361 435h4v1h-4zM367 435h2v1h-2zM372 435h6v1h-6zM96 436h12v1h-12zM109 436h8v1h-8zM118 436h1v1h-1zM122 436h4v1h-4zM128 436h2v1h-2zM362 436h3v1h-3zM366 436h3v1h-3zM374 436h4v1h-4zM96 437h11v1h-11zM109 437h7v1h-7zM118 437h1v1h-1zM123 437h4v1h-4zM134 437h3v1h-3zM143 437h4v1h-4zM148 437h3v1h-3zM367 437h4v1h-4zM374 437h4v1h-4zM91 438h1v1h-1zM98 438h9v1h-9zM110 438h9v1h-9zM123 438h4v1h-4zM129 438h1v1h-1zM135 438h2v1h-2zM143 438h1v1h-1zM149 438h2v1h-2zM368 438h9v1h-9zM89 439h3v1h-3zM94 439h3v1h-3zM98 439h10v1h-10zM109 439h6v1h-6zM116 439h3v1h-3zM121 439h1v1h-1zM124 439h7v1h-7zM132 439h1v1h-1zM367 439h3v1h-3zM371 439h7v1h-7zM90 440h1v1h-1zM93 440h9v1h-9zM106 440h2v1h-2zM109 440h5v1h-5zM117 440h1v1h-1zM120 440h2v1h-2zM124 440h7v1h-7zM362 440h1v1h-1zM365 440h5v1h-5zM372 440h3v1h-3zM377 440h1v1h-1zM379 440h1v1h-1zM86 441h1v1h-1zM90 441h1v1h-1zM96 441h7v1h-7zM106 441h3v1h-3zM111 441h4v1h-4zM120 441h1v1h-1zM123 441h8v1h-8zM140 441h2v1h-2zM365 441h5v1h-5zM374 441h3v1h-3zM89 442h2v1h-2zM95 442h8v1h-8zM106 442h4v1h-4zM112 442h3v1h-3zM122 442h4v1h-4zM127 442h1v1h-1zM132 442h2v1h-2zM366 442h2v1h-2zM371 442h6v1h-6zM89 443h5v1h-5zM96 443h14v1h-14zM111 443h5v1h-5zM123 443h2v1h-2zM127 443h1v1h-1zM132 443h1v1h-1zM147 443h1v1h-1zM365 443h12v1h-12zM88 444h6v1h-6zM98 444h11v1h-11zM111 444h6v1h-6zM124 444h1v1h-1zM131 444h2v1h-2zM134 444h2v1h-2zM138 444h2v1h-2zM145 444h1v1h-1zM154 444h1v1h-1zM365 444h11v1h-11zM88 445h1v1h-1zM92 445h2v1h-2zM98 445h7v1h-7zM107 445h1v1h-1zM111 445h5v1h-5zM123 445h2v1h-2zM134 445h2v1h-2zM138 445h2v1h-2zM143 445h3v1h-3zM148 445h1v1h-1zM160 445h1v1h-1zM365 445h10v1h-10zM88 446h1v1h-1zM94 446h6v1h-6zM101 446h5v1h-5zM107 446h2v1h-2zM110 446h6v1h-6zM120 446h1v1h-1zM123 446h3v1h-3zM139 446h1v1h-1zM143 446h1v1h-1zM145 446h1v1h-1zM150 446h2v1h-2zM159 446h1v1h-1zM364 446h6v1h-6zM372 446h3v1h-3zM378 446h1v1h-1zM95 447h18v1h-18zM120 447h2v1h-2zM123 447h3v1h-3zM159 447h1v1h-1zM363 447h7v1h-7zM372 447h4v1h-4zM378 447h1v1h-1zM91 448h2v1h-2zM95 448h18v1h-18zM124 448h2v1h-2zM139 448h2v1h-2zM144 448h1v1h-1zM159 448h1v1h-1zM363 448h7v1h-7zM372 448h5v1h-5zM87 449h2v1h-2zM90 449h4v1h-4zM97 449h6v1h-6zM104 449h3v1h-3zM110 449h3v1h-3zM114 449h1v1h-1zM122 449h2v1h-2zM125 449h2v1h-2zM129 449h2v1h-2zM138 449h2v1h-2zM364 449h6v1h-6zM372 449h6v1h-6zM87 450h2v1h-2zM98 450h5v1h-5zM104 450h3v1h-3zM112 450h2v1h-2zM122 450h2v1h-2zM125 450h5v1h-5zM139 450h1v1h-1zM364 450h14v1h-14zM87 451h2v1h-2zM95 451h2v1h-2zM99 451h8v1h-8zM109 451h2v1h-2zM112 451h2v1h-2zM121 451h8v1h-8zM133 451h3v1h-3zM148 451h2v1h-2zM365 451h10v1h-10zM87 452h2v1h-2zM91 452h2v1h-2zM95 452h2v1h-2zM98 452h10v1h-10zM109 452h2v1h-2zM112 452h5v1h-5zM124 452h5v1h-5zM132 452h1v1h-1zM134 452h2v1h-2zM147 452h3v1h-3zM364 452h10v1h-10zM377 452h2v1h-2zM69 453h2v1h-2zM87 453h2v1h-2zM91 453h2v1h-2zM95 453h2v1h-2zM98 453h13v1h-13zM113 453h4v1h-4zM121 453h4v1h-4zM134 453h2v1h-2zM148 453h1v1h-1zM364 453h4v1h-4zM370 453h9v1h-9zM69 454h1v1h-1zM86 454h11v1h-11zM100 454h11v1h-11zM114 454h3v1h-3zM121 454h5v1h-5zM135 454h1v1h-1zM140 454h2v1h-2zM157 454h2v1h-2zM364 454h3v1h-3zM370 454h8v1h-8zM86 455h2v1h-2zM89 455h8v1h-8zM101 455h10v1h-10zM114 455h2v1h-2zM120 455h6v1h-6zM131 455h2v1h-2zM140 455h2v1h-2zM363 455h1v1h-1zM365 455h2v1h-2zM371 455h6v1h-6zM87 456h1v1h-1zM97 456h7v1h-7zM105 456h7v1h-7zM114 456h1v1h-1zM120 456h5v1h-5zM128 456h2v1h-2zM131 456h2v1h-2zM141 456h1v1h-1zM363 456h3v1h-3zM367 456h11v1h-11zM87 457h1v1h-1zM97 457h18v1h-18zM121 457h4v1h-4zM127 457h2v1h-2zM134 457h1v1h-1zM363 457h3v1h-3zM367 457h11v1h-11zM87 458h2v1h-2zM93 458h2v1h-2zM97 458h13v1h-13zM113 458h3v1h-3zM120 458h2v1h-2zM124 458h2v1h-2zM133 458h1v1h-1zM144 458h2v1h-2zM363 458h3v1h-3zM368 458h7v1h-7zM376 458h1v1h-1zM86 459h3v1h-3zM90 459h1v1h-1zM94 459h17v1h-17zM112 459h4v1h-4zM120 459h2v1h-2zM124 459h1v1h-1zM132 459h2v1h-2zM143 459h2v1h-2zM369 459h6v1h-6zM86 460h5v1h-5zM96 460h15v1h-15zM112 460h4v1h-4zM119 460h2v1h-2zM122 460h6v1h-6zM369 460h1v1h-1zM371 460h5v1h-5zM379 460h2v1h-2zM94 461h17v1h-17zM114 461h3v1h-3zM119 461h6v1h-6zM361 461h1v1h-1zM371 461h3v1h-3zM375 461h1v1h-1zM379 461h2v1h-2zM92 462h2v1h-2zM96 462h1v1h-1zM99 462h13v1h-13zM114 462h3v1h-3zM120 462h8v1h-8zM136 462h3v1h-3zM149 462h1v1h-1zM361 462h1v1h-1zM365 462h9v1h-9zM375 462h5v1h-5zM87 463h2v1h-2zM91 463h2v1h-2zM96 463h1v1h-1zM98 463h1v1h-1zM100 463h10v1h-10zM112 463h6v1h-6zM120 463h7v1h-7zM130 463h2v1h-2zM135 463h2v1h-2zM144 463h1v1h-1zM149 463h2v1h-2zM361 463h2v1h-2zM364 463h15v1h-15zM88 464h2v1h-2zM95 464h1v1h-1zM98 464h13v1h-13zM112 464h5v1h-5zM119 464h4v1h-4zM124 464h3v1h-3zM130 464h1v1h-1zM135 464h2v1h-2zM145 464h2v1h-2zM150 464h1v1h-1zM362 464h7v1h-7zM370 464h3v1h-3zM374 464h5v1h-5zM92 465h1v1h-1zM95 465h1v1h-1zM98 465h19v1h-19zM121 465h2v1h-2zM124 465h2v1h-2zM130 465h2v1h-2zM135 465h1v1h-1zM145 465h2v1h-2zM362 465h7v1h-7zM371 465h2v1h-2zM374 465h5v1h-5zM91 466h2v1h-2zM95 466h2v1h-2zM98 466h5v1h-5zM104 466h12v1h-12zM119 466h1v1h-1zM123 466h3v1h-3zM132 466h1v1h-1zM135 466h1v1h-1zM145 466h3v1h-3zM362 466h15v1h-15zM90 467h7v1h-7zM98 467h15v1h-15zM114 467h2v1h-2zM120 467h7v1h-7zM131 467h1v1h-1zM135 467h1v1h-1zM145 467h1v1h-1zM148 467h2v1h-2zM362 467h2v1h-2zM365 467h1v1h-1zM367 467h10v1h-10zM89 468h7v1h-7zM98 468h15v1h-15zM115 468h1v1h-1zM121 468h3v1h-3zM126 468h1v1h-1zM131 468h1v1h-1zM135 468h1v1h-1zM138 468h2v1h-2zM145 468h1v1h-1zM149 468h1v1h-1zM163 468h1v1h-1zM362 468h11v1h-11zM375 468h2v1h-2zM89 469h3v1h-3zM94 469h15v1h-15zM110 469h6v1h-6zM122 469h2v1h-2zM131 469h2v1h-2zM137 469h3v1h-3zM145 469h1v1h-1zM362 469h10v1h-10zM375 469h1v1h-1zM90 470h2v1h-2zM96 470h2v1h-2zM99 470h10v1h-10zM110 470h9v1h-9zM122 470h2v1h-2zM131 470h2v1h-2zM362 470h8v1h-8zM373 470h3v1h-3zM94 471h5v1h-5zM100 471h9v1h-9zM111 471h8v1h-8zM122 471h4v1h-4zM139 471h1v1h-1zM362 471h8v1h-8zM373 471h7v1h-7zM95 472h13v1h-13zM110 472h4v1h-4zM117 472h1v1h-1zM124 472h3v1h-3zM134 472h2v1h-2zM138 472h1v1h-1zM361 472h8v1h-8zM371 472h1v1h-1zM375 472h5v1h-5zM90 473h4v1h-4zM96 473h18v1h-18zM118 473h1v1h-1zM121 473h1v1h-1zM125 473h3v1h-3zM134 473h5v1h-5zM362 473h4v1h-4zM367 473h5v1h-5zM373 473h6v1h-6zM87 474h2v1h-2zM92 474h2v1h-2zM97 474h18v1h-18zM117 474h3v1h-3zM126 474h3v1h-3zM134 474h5v1h-5zM158 474h1v1h-1zM362 474h15v1h-15zM93 475h1v1h-1zM99 475h13v1h-13zM113 475h3v1h-3zM118 475h2v1h-2zM122 475h1v1h-1zM125 475h4v1h-4zM132 475h6v1h-6zM149 475h1v1h-1zM363 475h14v1h-14zM83 476h1v1h-1zM89 476h3v1h-3zM93 476h2v1h-2zM96 476h16v1h-16zM113 476h3v1h-3zM121 476h2v1h-2zM125 476h2v1h-2zM130 476h1v1h-1zM132 476h4v1h-4zM140 476h2v1h-2zM144 476h2v1h-2zM149 476h1v1h-1zM363 476h4v1h-4zM368 476h5v1h-5zM83 477h1v1h-1zM88 477h5v1h-5zM94 477h21v1h-21zM122 477h1v1h-1zM125 477h2v1h-2zM129 477h2v1h-2zM132 477h4v1h-4zM140 477h2v1h-2zM144 477h2v1h-2zM360 477h1v1h-1zM363 477h11v1h-11zM376 477h1v1h-1zM82 478h2v1h-2zM85 478h1v1h-1zM88 478h5v1h-5zM96 478h19v1h-19zM122 478h2v1h-2zM125 478h2v1h-2zM129 478h1v1h-1zM132 478h5v1h-5zM139 478h3v1h-3zM147 478h2v1h-2zM154 478h1v1h-1zM363 478h7v1h-7zM371 478h4v1h-4zM84 479h2v1h-2zM89 479h3v1h-3zM96 479h2v1h-2zM99 479h18v1h-18zM122 479h2v1h-2zM129 479h3v1h-3zM135 479h2v1h-2zM139 479h2v1h-2zM147 479h1v1h-1zM362 479h13v1h-13zM377 479h1v1h-1zM380 479h3v1h-3zM81 480h1v1h-1zM83 480h2v1h-2zM87 480h3v1h-3zM95 480h3v1h-3zM99 480h18v1h-18zM121 480h2v1h-2zM129 480h1v1h-1zM135 480h1v1h-1zM362 480h10v1h-10zM373 480h5v1h-5zM380 480h2v1h-2zM81 481h1v1h-1zM83 481h8v1h-8zM95 481h22v1h-22zM120 481h2v1h-2zM125 481h5v1h-5zM135 481h2v1h-2zM361 481h7v1h-7zM369 481h3v1h-3zM373 481h6v1h-6zM79 482h13v1h-13zM94 482h8v1h-8zM103 482h13v1h-13zM120 482h1v1h-1zM126 482h5v1h-5zM136 482h1v1h-1zM141 482h1v1h-1zM361 482h18v1h-18zM80 483h3v1h-3zM84 483h6v1h-6zM91 483h3v1h-3zM95 483h5v1h-5zM103 483h14v1h-14zM126 483h5v1h-5zM360 483h5v1h-5zM366 483h4v1h-4zM371 483h9v1h-9zM81 484h2v1h-2zM85 484h5v1h-5zM91 484h4v1h-4zM97 484h3v1h-3zM103 484h14v1h-14zM121 484h3v1h-3zM126 484h3v1h-3zM131 484h1v1h-1zM142 484h2v1h-2zM146 484h2v1h-2zM361 484h2v1h-2zM366 484h4v1h-4zM371 484h10v1h-10zM76 485h1v1h-1zM79 485h2v1h-2zM82 485h2v1h-2zM85 485h10v1h-10zM97 485h3v1h-3zM101 485h17v1h-17zM121 485h3v1h-3zM126 485h2v1h-2zM133 485h1v1h-1zM142 485h2v1h-2zM146 485h2v1h-2zM149 485h2v1h-2zM362 485h8v1h-8zM372 485h7v1h-7zM77 486h4v1h-4zM86 486h1v1h-1zM88 486h4v1h-4zM94 486h1v1h-1zM96 486h7v1h-7zM104 486h15v1h-15zM124 486h1v1h-1zM127 486h1v1h-1zM132 486h1v1h-1zM362 486h5v1h-5zM368 486h1v1h-1zM372 486h9v1h-9zM77 487h2v1h-2zM80 487h1v1h-1zM89 487h6v1h-6zM96 487h5v1h-5zM102 487h1v1h-1zM104 487h14v1h-14zM120 487h3v1h-3zM126 487h3v1h-3zM132 487h2v1h-2zM159 487h1v1h-1zM358 487h2v1h-2zM361 487h6v1h-6zM371 487h9v1h-9zM84 488h3v1h-3zM91 488h2v1h-2zM94 488h7v1h-7zM102 488h8v1h-8zM111 488h7v1h-7zM126 488h4v1h-4zM132 488h2v1h-2zM135 488h1v1h-1zM141 488h1v1h-1zM146 488h1v1h-1zM159 488h1v1h-1zM359 488h1v1h-1zM362 488h10v1h-10zM374 488h4v1h-4zM84 489h3v1h-3zM92 489h17v1h-17zM111 489h4v1h-4zM127 489h3v1h-3zM133 489h2v1h-2zM140 489h1v1h-1zM146 489h2v1h-2zM359 489h1v1h-1zM363 489h15v1h-15zM86 490h2v1h-2zM93 490h21v1h-21zM116 490h2v1h-2zM124 490h4v1h-4zM133 490h3v1h-3zM137 490h1v1h-1zM139 490h2v1h-2zM146 490h1v1h-1zM363 490h7v1h-7zM372 490h8v1h-8zM87 491h2v1h-2zM92 491h22v1h-22zM115 491h3v1h-3zM121 491h7v1h-7zM132 491h9v1h-9zM144 491h2v1h-2zM147 491h1v1h-1zM363 491h17v1h-17zM81 492h2v1h-2zM87 492h2v1h-2zM91 492h5v1h-5zM98 492h17v1h-17zM122 492h2v1h-2zM125 492h3v1h-3zM132 492h6v1h-6zM140 492h2v1h-2zM144 492h3v1h-3zM362 492h13v1h-13zM378 492h2v1h-2zM77 493h7v1h-7zM86 493h3v1h-3zM91 493h5v1h-5zM98 493h19v1h-19zM122 493h2v1h-2zM132 493h6v1h-6zM140 493h2v1h-2zM144 493h3v1h-3zM153 493h1v1h-1zM361 493h13v1h-13zM375 493h6v1h-6zM76 494h14v1h-14zM92 494h4v1h-4zM98 494h13v1h-13zM112 494h5v1h-5zM123 494h1v1h-1zM136 494h2v1h-2zM139 494h1v1h-1zM141 494h1v1h-1zM154 494h1v1h-1zM360 494h20v1h-20zM75 495h10v1h-10zM87 495h2v1h-2zM91 495h5v1h-5zM98 495h16v1h-16zM115 495h2v1h-2zM123 495h5v1h-5zM129 495h1v1h-1zM135 495h2v1h-2zM141 495h1v1h-1zM360 495h14v1h-14zM375 495h5v1h-5zM74 496h8v1h-8zM91 496h19v1h-19zM111 496h7v1h-7zM123 496h3v1h-3zM128 496h2v1h-2zM136 496h2v1h-2zM362 496h12v1h-12zM376 496h4v1h-4zM75 497h4v1h-4zM91 497h26v1h-26zM123 497h2v1h-2zM129 497h2v1h-2zM137 497h1v1h-1zM362 497h1v1h-1zM364 497h16v1h-16zM76 498h3v1h-3zM87 498h9v1h-9zM97 498h18v1h-18zM123 498h2v1h-2zM129 498h3v1h-3zM133 498h2v1h-2zM146 498h1v1h-1zM361 498h19v1h-19zM78 499h1v1h-1zM81 499h3v1h-3zM87 499h28v1h-28zM122 499h3v1h-3zM129 499h6v1h-6zM139 499h1v1h-1zM147 499h1v1h-1zM361 499h10v1h-10zM372 499h4v1h-4zM377 499h2v1h-2zM62 500h1v1h-1zM74 500h1v1h-1zM78 500h1v1h-1zM84 500h31v1h-31zM118 500h1v1h-1zM121 500h11v1h-11zM147 500h2v1h-2zM360 500h14v1h-14zM375 500h5v1h-5zM76 501h3v1h-3zM83 501h5v1h-5zM90 501h3v1h-3zM95 501h21v1h-21zM121 501h2v1h-2zM125 501h4v1h-4zM130 501h1v1h-1zM147 501h1v1h-1zM360 501h11v1h-11zM373 501h5v1h-5zM380 501h1v1h-1zM76 502h1v1h-1zM82 502h6v1h-6zM90 502h4v1h-4zM96 502h20v1h-20zM120 502h3v1h-3zM363 502h1v1h-1zM365 502h9v1h-9zM375 502h4v1h-4zM75 503h1v1h-1zM80 503h8v1h-8zM90 503h5v1h-5zM97 503h18v1h-18zM121 503h1v1h-1zM362 503h15v1h-15zM378 503h1v1h-1zM79 504h8v1h-8zM89 504h26v1h-26zM142 504h1v1h-1zM155 504h1v1h-1zM362 504h13v1h-13zM376 504h4v1h-4zM71 505h1v1h-1zM81 505h4v1h-4zM89 505h26v1h-26zM120 505h1v1h-1zM123 505h2v1h-2zM142 505h1v1h-1zM361 505h3v1h-3zM367 505h7v1h-7zM375 505h5v1h-5zM70 506h2v1h-2zM78 506h1v1h-1zM81 506h3v1h-3zM90 506h4v1h-4zM96 506h19v1h-19zM121 506h5v1h-5zM131 506h1v1h-1zM143 506h2v1h-2zM361 506h1v1h-1zM366 506h9v1h-9zM376 506h4v1h-4zM73 507h2v1h-2zM78 507h1v1h-1zM81 507h4v1h-4zM91 507h4v1h-4zM97 507h8v1h-8zM107 507h8v1h-8zM121 507h5v1h-5zM131 507h3v1h-3zM143 507h3v1h-3zM360 507h12v1h-12zM374 507h1v1h-1zM376 507h5v1h-5zM78 508h7v1h-7zM89 508h1v1h-1zM91 508h5v1h-5zM98 508h17v1h-17zM121 508h5v1h-5zM128 508h2v1h-2zM133 508h1v1h-1zM142 508h3v1h-3zM146 508h4v1h-4zM360 508h12v1h-12zM373 508h8v1h-8zM78 509h5v1h-5zM85 509h3v1h-3zM89 509h26v1h-26zM121 509h1v1h-1zM126 509h3v1h-3zM142 509h1v1h-1zM146 509h4v1h-4zM160 509h2v1h-2zM360 509h20v1h-20zM77 510h6v1h-6zM86 510h2v1h-2zM91 510h25v1h-25zM119 510h3v1h-3zM126 510h3v1h-3zM133 510h5v1h-5zM145 510h4v1h-4zM360 510h1v1h-1zM363 510h5v1h-5zM370 510h5v1h-5zM376 510h2v1h-2zM78 511h2v1h-2zM81 511h2v1h-2zM86 511h2v1h-2zM92 511h24v1h-24zM119 511h4v1h-4zM126 511h3v1h-3zM133 511h5v1h-5zM359 511h5v1h-5zM365 511h4v1h-4zM370 511h5v1h-5zM376 511h3v1h-3zM77 512h3v1h-3zM81 512h2v1h-2zM86 512h1v1h-1zM93 512h22v1h-22zM119 512h4v1h-4zM127 512h2v1h-2zM134 512h2v1h-2zM360 512h4v1h-4zM366 512h8v1h-8zM375 512h6v1h-6zM70 513h1v1h-1zM78 513h5v1h-5zM89 513h2v1h-2zM92 513h3v1h-3zM97 513h23v1h-23zM125 513h1v1h-1zM362 513h2v1h-2zM367 513h13v1h-13zM77 514h3v1h-3zM88 514h7v1h-7zM97 514h22v1h-22zM125 514h2v1h-2zM145 514h1v1h-1zM361 514h17v1h-17zM76 515h4v1h-4zM83 515h1v1h-1zM88 515h30v1h-30zM125 515h5v1h-5zM139 515h1v1h-1zM360 515h18v1h-18zM76 516h4v1h-4zM83 516h2v1h-2zM87 516h4v1h-4zM92 516h1v1h-1zM96 516h22v1h-22zM119 516h1v1h-1zM125 516h2v1h-2zM128 516h1v1h-1zM139 516h1v1h-1zM143 516h1v1h-1zM360 516h18v1h-18zM78 517h2v1h-2zM83 517h6v1h-6zM96 517h20v1h-20zM119 517h1v1h-1zM125 517h3v1h-3zM141 517h3v1h-3zM360 517h19v1h-19zM77 518h4v1h-4zM82 518h13v1h-13zM96 518h20v1h-20zM121 518h7v1h-7zM135 518h1v1h-1zM140 518h2v1h-2zM360 518h19v1h-19zM78 519h12v1h-12zM91 519h24v1h-24zM121 519h2v1h-2zM125 519h2v1h-2zM135 519h2v1h-2zM140 519h3v1h-3zM149 519h1v1h-1zM361 519h19v1h-19zM74 520h2v1h-2zM79 520h10v1h-10zM91 520h26v1h-26zM118 520h1v1h-1zM122 520h1v1h-1zM124 520h4v1h-4zM129 520h3v1h-3zM135 520h2v1h-2zM140 520h3v1h-3zM149 520h1v1h-1zM152 520h1v1h-1zM361 520h16v1h-16zM80 521h1v1h-1zM83 521h3v1h-3zM87 521h6v1h-6zM95 521h22v1h-22zM122 521h6v1h-6zM129 521h4v1h-4zM149 521h1v1h-1zM152 521h1v1h-1zM361 521h18v1h-18zM76 522h2v1h-2zM81 522h3v1h-3zM87 522h6v1h-6zM94 522h23v1h-23zM122 522h1v1h-1zM124 522h3v1h-3zM149 522h1v1h-1zM360 522h17v1h-17zM378 522h4v1h-4zM76 523h1v1h-1zM81 523h3v1h-3zM87 523h13v1h-13zM101 523h2v1h-2zM107 523h10v1h-10zM125 523h2v1h-2zM147 523h5v1h-5zM360 523h16v1h-16zM378 523h1v1h-1zM380 523h3v1h-3zM76 524h2v1h-2zM87 524h2v1h-2zM91 524h9v1h-9zM102 524h3v1h-3zM106 524h12v1h-12zM124 524h2v1h-2zM147 524h1v1h-1zM151 524h1v1h-1zM360 524h19v1h-19zM381 524h1v1h-1zM64 525h1v1h-1zM76 525h2v1h-2zM80 525h1v1h-1zM85 525h3v1h-3zM92 525h8v1h-8zM102 525h16v1h-16zM124 525h2v1h-2zM146 525h2v1h-2zM151 525h1v1h-1zM360 525h19v1h-19zM381 525h1v1h-1zM75 526h3v1h-3zM85 526h2v1h-2zM89 526h1v1h-1zM92 526h26v1h-26zM124 526h2v1h-2zM130 526h1v1h-1zM362 526h20v1h-20zM72 527h1v1h-1zM75 527h3v1h-3zM85 527h2v1h-2zM88 527h21v1h-21zM111 527h7v1h-7zM120 527h1v1h-1zM125 527h2v1h-2zM145 527h1v1h-1zM362 527h19v1h-19zM73 528h4v1h-4zM80 528h4v1h-4zM88 528h6v1h-6zM96 528h13v1h-13zM111 528h7v1h-7zM124 528h3v1h-3zM139 528h1v1h-1zM146 528h1v1h-1zM153 528h1v1h-1zM361 528h16v1h-16zM379 528h2v1h-2zM73 529h2v1h-2zM76 529h2v1h-2zM80 529h4v1h-4zM88 529h7v1h-7zM96 529h24v1h-24zM142 529h2v1h-2zM153 529h2v1h-2zM361 529h16v1h-16zM76 530h5v1h-5zM83 530h2v1h-2zM88 530h1v1h-1zM92 530h30v1h-30zM141 530h3v1h-3zM153 530h1v1h-1zM361 530h17v1h-17zM75 531h6v1h-6zM88 531h1v1h-1zM93 531h27v1h-27zM124 531h2v1h-2zM133 531h6v1h-6zM141 531h1v1h-1zM153 531h1v1h-1zM360 531h17v1h-17zM75 532h7v1h-7zM85 532h1v1h-1zM92 532h4v1h-4zM98 532h21v1h-21zM124 532h2v1h-2zM134 532h5v1h-5zM153 532h1v1h-1zM360 532h17v1h-17zM75 533h2v1h-2zM78 533h4v1h-4zM85 533h2v1h-2zM90 533h1v1h-1zM94 533h24v1h-24zM136 533h3v1h-3zM360 533h17v1h-17zM78 534h3v1h-3zM84 534h2v1h-2zM90 534h1v1h-1zM95 534h23v1h-23zM136 534h3v1h-3zM144 534h2v1h-2zM360 534h17v1h-17zM79 535h2v1h-2zM84 535h1v1h-1zM90 535h1v1h-1zM97 535h23v1h-23zM122 535h2v1h-2zM137 535h2v1h-2zM360 535h17v1h-17zM379 535h2v1h-2zM79 536h3v1h-3zM89 536h3v1h-3zM98 536h12v1h-12zM112 536h12v1h-12zM127 536h2v1h-2zM132 536h1v1h-1zM138 536h1v1h-1zM148 536h2v1h-2zM155 536h1v1h-1zM360 536h16v1h-16zM379 536h2v1h-2zM63 537h2v1h-2zM79 537h2v1h-2zM86 537h6v1h-6zM95 537h12v1h-12zM109 537h2v1h-2zM112 537h12v1h-12zM126 537h2v1h-2zM137 537h3v1h-3zM156 537h2v1h-2zM361 537h15v1h-15zM84 538h7v1h-7zM95 538h30v1h-30zM126 538h1v1h-1zM134 538h2v1h-2zM137 538h3v1h-3zM156 538h2v1h-2zM361 538h16v1h-16zM83 539h2v1h-2zM94 539h20v1h-20zM115 539h10v1h-10zM134 539h6v1h-6zM156 539h1v1h-1zM362 539h15v1h-15zM379 539h3v1h-3zM77 540h2v1h-2zM81 540h3v1h-3zM87 540h1v1h-1zM94 540h20v1h-20zM116 540h5v1h-5zM134 540h4v1h-4zM155 540h1v1h-1zM361 540h16v1h-16zM76 541h8v1h-8zM87 541h1v1h-1zM91 541h1v1h-1zM93 541h13v1h-13zM107 541h3v1h-3zM111 541h3v1h-3zM116 541h6v1h-6zM126 541h1v1h-1zM133 541h1v1h-1zM136 541h2v1h-2zM145 541h2v1h-2zM361 541h17v1h-17zM75 542h2v1h-2zM79 542h4v1h-4zM86 542h2v1h-2zM92 542h31v1h-31zM133 542h2v1h-2zM136 542h2v1h-2zM140 542h2v1h-2zM145 542h3v1h-3zM153 542h1v1h-1zM361 542h17v1h-17zM75 543h2v1h-2zM80 543h1v1h-1zM82 543h1v1h-1zM92 543h1v1h-1zM94 543h3v1h-3zM98 543h21v1h-21zM134 543h1v1h-1zM145 543h3v1h-3zM360 543h19v1h-19zM75 544h1v1h-1zM78 544h3v1h-3zM82 544h6v1h-6zM92 544h4v1h-4zM97 544h22v1h-22zM141 544h1v1h-1zM145 544h2v1h-2zM361 544h17v1h-17zM82 545h6v1h-6zM92 545h27v1h-27zM121 545h1v1h-1zM138 545h2v1h-2zM141 545h1v1h-1zM146 545h1v1h-1zM361 545h17v1h-17zM84 546h4v1h-4zM93 546h27v1h-27zM138 546h5v1h-5zM147 546h1v1h-1zM152 546h2v1h-2zM360 546h17v1h-17zM82 547h1v1h-1zM84 547h5v1h-5zM94 547h28v1h-28zM124 547h1v1h-1zM131 547h2v1h-2zM134 547h1v1h-1zM137 547h6v1h-6zM146 547h2v1h-2zM152 547h2v1h-2zM361 547h17v1h-17zM80 548h1v1h-1zM87 548h1v1h-1zM96 548h19v1h-19zM116 548h5v1h-5zM128 548h1v1h-1zM131 548h7v1h-7zM140 548h2v1h-2zM147 548h1v1h-1zM158 548h1v1h-1zM361 548h17v1h-17zM75 549h1v1h-1zM95 549h24v1h-24zM128 549h1v1h-1zM132 549h6v1h-6zM140 549h1v1h-1zM147 549h2v1h-2zM158 549h1v1h-1zM162 549h1v1h-1zM362 549h15v1h-15zM381 549h1v1h-1zM74 550h1v1h-1zM87 550h1v1h-1zM94 550h25v1h-25zM131 550h5v1h-5zM153 550h1v1h-1zM161 550h2v1h-2zM361 550h18v1h-18zM77 551h2v1h-2zM87 551h2v1h-2zM94 551h23v1h-23zM120 551h2v1h-2zM124 551h3v1h-3zM131 551h2v1h-2zM143 551h1v1h-1zM145 551h2v1h-2zM361 551h19v1h-19zM69 552h1v1h-1zM87 552h1v1h-1zM94 552h6v1h-6zM101 552h14v1h-14zM116 552h1v1h-1zM119 552h2v1h-2zM126 552h1v1h-1zM131 552h1v1h-1zM136 552h1v1h-1zM362 552h16v1h-16zM380 552h1v1h-1zM68 553h2v1h-2zM94 553h20v1h-20zM116 553h1v1h-1zM119 553h5v1h-5zM125 553h2v1h-2zM128 553h2v1h-2zM131 553h2v1h-2zM136 553h1v1h-1zM139 553h1v1h-1zM155 553h2v1h-2zM361 553h17v1h-17zM379 553h2v1h-2zM84 554h1v1h-1zM94 554h1v1h-1zM98 554h16v1h-16zM120 554h7v1h-7zM128 554h5v1h-5zM141 554h2v1h-2zM149 554h1v1h-1zM153 554h4v1h-4zM361 554h19v1h-19zM80 555h1v1h-1zM90 555h3v1h-3zM94 555h2v1h-2zM97 555h18v1h-18zM120 555h7v1h-7zM128 555h1v1h-1zM141 555h1v1h-1zM149 555h1v1h-1zM361 555h15v1h-15zM378 555h1v1h-1zM80 556h1v1h-1zM85 556h2v1h-2zM90 556h2v1h-2zM93 556h12v1h-12zM106 556h13v1h-13zM123 556h6v1h-6zM135 556h1v1h-1zM360 556h16v1h-16zM80 557h1v1h-1zM85 557h4v1h-4zM94 557h24v1h-24zM119 557h1v1h-1zM123 557h7v1h-7zM135 557h3v1h-3zM142 557h2v1h-2zM360 557h17v1h-17zM378 557h1v1h-1zM381 557h1v1h-1zM86 558h2v1h-2zM95 558h11v1h-11zM108 558h12v1h-12zM122 558h2v1h-2zM126 558h3v1h-3zM133 558h5v1h-5zM141 558h2v1h-2zM149 558h1v1h-1zM159 558h2v1h-2zM361 558h19v1h-19zM83 559h1v1h-1zM87 559h1v1h-1zM95 559h11v1h-11zM107 559h13v1h-13zM122 559h7v1h-7zM136 559h2v1h-2zM142 559h1v1h-1zM361 559h20v1h-20zM81 560h3v1h-3zM87 560h1v1h-1zM92 560h3v1h-3zM96 560h10v1h-10zM107 560h13v1h-13zM124 560h4v1h-4zM142 560h2v1h-2zM148 560h2v1h-2zM359 560h22v1h-22zM87 561h1v1h-1zM92 561h3v1h-3zM96 561h23v1h-23zM125 561h1v1h-1zM142 561h2v1h-2zM148 561h2v1h-2zM359 561h19v1h-19zM380 561h2v1h-2zM93 562h1v1h-1zM96 562h22v1h-22zM121 562h1v1h-1zM124 562h2v1h-2zM149 562h2v1h-2zM361 562h16v1h-16zM380 562h1v1h-1zM96 563h20v1h-20zM121 563h2v1h-2zM139 563h2v1h-2zM361 563h16v1h-16zM378 563h3v1h-3zM84 564h1v1h-1zM95 564h1v1h-1zM97 564h19v1h-19zM120 564h3v1h-3zM132 564h1v1h-1zM139 564h1v1h-1zM156 564h2v1h-2zM160 564h1v1h-1zM361 564h16v1h-16zM378 564h3v1h-3zM85 565h1v1h-1zM95 565h13v1h-13zM111 565h6v1h-6zM119 565h5v1h-5zM156 565h3v1h-3zM161 565h2v1h-2zM360 565h17v1h-17zM97 566h20v1h-20zM119 566h6v1h-6zM146 566h2v1h-2zM162 566h1v1h-1zM361 566h17v1h-17zM381 566h2v1h-2zM97 567h28v1h-28zM361 567h17v1h-17zM379 567h3v1h-3zM98 568h22v1h-22zM121 568h3v1h-3zM361 568h17v1h-17zM379 568h3v1h-3zM97 569h28v1h-28zM131 569h1v1h-1zM359 569h19v1h-19zM97 570h28v1h-28zM130 570h2v1h-2zM133 570h1v1h-1zM142 570h1v1h-1zM358 570h20v1h-20zM382 570h1v1h-1zM93 571h2v1h-2zM97 571h28v1h-28zM141 571h2v1h-2zM359 571h19v1h-19zM382 571h1v1h-1zM93 572h3v1h-3zM98 572h24v1h-24zM130 572h1v1h-1zM154 572h1v1h-1zM357 572h21v1h-21zM381 572h2v1h-2zM95 573h24v1h-24zM120 573h2v1h-2zM357 573h21v1h-21zM381 573h1v1h-1zM93 574h3v1h-3zM98 574h24v1h-24zM357 574h21v1h-21zM380 574h2v1h-2zM93 575h3v1h-3zM98 575h21v1h-21zM120 575h1v1h-1zM131 575h1v1h-1zM150 575h1v1h-1zM158 575h1v1h-1zM357 575h21v1h-21zM380 575h4v1h-4zM93 576h3v1h-3zM98 576h23v1h-23zM122 576h2v1h-2zM130 576h2v1h-2zM134 576h1v1h-1zM359 576h20v1h-20zM381 576h2v1h-2zM90 577h1v1h-1zM94 577h12v1h-12zM107 577h14v1h-14zM360 577h19v1h-19zM382 577h1v1h-1zM74 578h1v1h-1zM96 578h10v1h-10zM107 578h10v1h-10zM118 578h4v1h-4zM134 578h2v1h-2zM360 578h17v1h-17zM74 579h1v1h-1zM90 579h1v1h-1zM96 579h6v1h-6zM103 579h14v1h-14zM121 579h2v1h-2zM358 579h20v1h-20zM78 580h1v1h-1zM89 580h2v1h-2zM96 580h7v1h-7zM106 580h6v1h-6zM113 580h7v1h-7zM153 580h1v1h-1zM359 580h20v1h-20zM89 581h1v1h-1zM95 581h25v1h-25zM359 581h19v1h-19zM381 581h3v1h-3zM92 582h2v1h-2zM95 582h25v1h-25zM147 582h1v1h-1zM358 582h19v1h-19zM381 582h1v1h-1zM93 583h2v1h-2zM96 583h23v1h-23zM121 583h1v1h-1zM358 583h19v1h-19zM379 583h3v1h-3zM88 584h1v1h-1zM93 584h1v1h-1zM97 584h25v1h-25zM358 584h19v1h-19zM380 584h1v1h-1zM88 585h1v1h-1zM93 585h1v1h-1zM98 585h24v1h-24zM359 585h22v1h-22zM70 586h1v1h-1zM93 586h2v1h-2zM98 586h23v1h-23zM130 586h1v1h-1zM358 586h21v1h-21zM90 587h4v1h-4zM97 587h20v1h-20zM118 587h3v1h-3zM129 587h1v1h-1zM358 587h21v1h-21zM89 588h5v1h-5zM95 588h27v1h-27zM359 588h21v1h-21zM381 588h2v1h-2zM89 589h5v1h-5zM95 589h23v1h-23zM120 589h2v1h-2zM359 589h24v1h-24zM85 590h2v1h-2zM90 590h1v1h-1zM95 590h25v1h-25zM359 590h24v1h-24zM89 591h1v1h-1zM98 591h23v1h-23zM127 591h2v1h-2zM360 591h18v1h-18zM98 592h23v1h-23zM127 592h1v1h-1zM360 592h18v1h-18zM97 593h24v1h-24zM360 593h19v1h-19zM380 593h1v1h-1zM94 594h14v1h-14zM110 594h12v1h-12zM125 594h1v1h-1zM360 594h17v1h-17zM378 594h1v1h-1zM380 594h2v1h-2zM94 595h3v1h-3zM99 595h9v1h-9zM111 595h5v1h-5zM119 595h4v1h-4zM360 595h17v1h-17zM91 596h1v1h-1zM94 596h2v1h-2zM102 596h3v1h-3zM106 596h10v1h-10zM119 596h4v1h-4zM358 596h20v1h-20zM90 597h3v1h-3zM94 597h2v1h-2zM106 597h3v1h-3zM111 597h6v1h-6zM121 597h2v1h-2zM149 597h1v1h-1zM359 597h19v1h-19zM75 598h1v1h-1zM95 598h2v1h-2zM99 598h1v1h-1zM102 598h1v1h-1zM105 598h1v1h-1zM108 598h1v1h-1zM112 598h4v1h-4zM121 598h2v1h-2zM359 598h18v1h-18zM75 599h1v1h-1zM95 599h5v1h-5zM102 599h1v1h-1zM112 599h2v1h-2zM359 599h22v1h-22zM89 600h2v1h-2zM96 600h1v1h-1zM99 600h1v1h-1zM111 600h2v1h-2zM118 600h1v1h-1zM357 600h2v1h-2zM360 600h18v1h-18zM381 600h1v1h-1zM96 601h2v1h-2zM111 601h1v1h-1zM356 601h2v1h-2zM360 601h18v1h-18zM91 602h2v1h-2zM96 602h2v1h-2zM109 602h3v1h-3zM362 602h3v1h-3zM368 602h5v1h-5zM375 602h3v1h-3zM62 603h2v1h-2zM94 603h1v1h-1zM105 603h3v1h-3zM111 603h2v1h-2zM363 603h2v1h-2zM369 603h4v1h-4zM375 603h4v1h-4zM100 604h1v1h-1zM104 604h4v1h-4zM112 604h1v1h-1zM117 604h1v1h-1zM362 604h3v1h-3zM366 604h2v1h-2zM369 604h9v1h-9zM104 605h3v1h-3zM117 605h1v1h-1zM362 605h1v1h-1zM364 605h1v1h-1zM366 605h2v1h-2zM372 605h6v1h-6zM86 606h1v1h-1zM104 606h4v1h-4zM361 606h2v1h-2zM366 606h1v1h-1zM373 606h5v1h-5zM86 607h2v1h-2zM105 607h1v1h-1zM114 607h1v1h-1zM354 607h2v1h-2zM359 607h4v1h-4zM366 607h1v1h-1zM373 607h2v1h-2zM101 608h2v1h-2zM105 608h1v1h-1zM113 608h2v1h-2zM150 608h1v1h-1zM354 608h2v1h-2zM360 608h4v1h-4zM367 608h1v1h-1zM374 608h1v1h-1zM92 609h2v1h-2zM101 609h2v1h-2zM112 609h2v1h-2zM359 609h6v1h-6zM367 609h1v1h-1zM370 609h1v1h-1zM374 609h1v1h-1zM93 610h1v1h-1zM100 610h2v1h-2zM112 610h2v1h-2zM358 610h5v1h-5zM367 610h2v1h-2zM370 610h1v1h-1zM112 611h2v1h-2zM368 611h1v1h-1zM360 612h1v1h-1zM69 613h1v1h-1zM99 614h2v1h-2zM94 616h1v1h-1zM82 617h1v1h-1zM94 617h1v1h-1zM100 618h1v1h-1zM100 619h1v1h-1zM126 619h2v1h-2zM129 621h1v1h-1z"/>
<rect x="85.20" y="395.20" width="26.00" height="1.80" fill="#000"/>
<rect x="114.60" y="395.20" width="38.20" height="1.80" fill="#000"/>
<rect x="156.50" y="395.20" width="3.00" height="1.80" fill="#000"/>
<rect x="162.60" y="395.20" width="1.60" height="1.80" fill="#000"/>
<rect x="161.00" y="398.00" width="1.60" height="1.60" fill="#000"/>
<rect x="96.00" y="397.00" width="2.00" height="1.20" fill="#000"/>
<rect x="103.00" y="397.00" width="3.00" height="1.20" fill="#000"/>
<rect x="128.00" y="397.00" width="2.00" height="1.20" fill="#000"/>
<rect x="135.00" y="397.00" width="4.00" height="1.20" fill="#000"/>
<rect x="144.00" y="397.00" width="2.00" height="1.20" fill="#000"/>
<rect x="420.00" y="539.00" width="2.00" height="2.00" fill="#000"/>
<rect x="410.00" y="549.00" width="2.00" height="2.00" fill="#000"/>
<rect x="349.00" y="566.00" width="2.00" height="2.00" fill="#000"/>
<rect x="350.00" y="612.00" width="2.00" height="2.00" fill="#000"/>
<rect x="387.00" y="595.00" width="2.00" height="2.00" fill="#000"/>
<rect x="390.00" y="607.00" width="2.00" height="2.00" fill="#000"/>
<rect x="350.00" y="605.00" width="2.00" height="2.00" fill="#000"/>
<rect x="397.00" y="586.00" width="2.00" height="2.00" fill="#000"/>
<rect x="66.00" y="621.00" width="2.00" height="2.00" fill="#000"/>
<rect x="397.00" y="600.00" width="3.00" height="1.00" fill="#000"/>
<rect x="86.00" y="400.00" width="30.90" height="122.00" fill="none" stroke="#fff" stroke-width="3.4000000000000004"/>
<rect x="86.00" y="400.00" width="30.90" height="122.00" fill="none" stroke="#000" stroke-width="1.8"/>
<rect x="119.00" y="400.00" width="32.10" height="126.40" fill="none" stroke="#fff" stroke-width="3.4000000000000004"/>
<rect x="119.00" y="400.00" width="32.10" height="126.40" fill="none" stroke="#000" stroke-width="1.8"/>
<rect x="87.50" y="567.10" width="30.50" height="30.80" fill="none" stroke="#fff" stroke-width="3.4000000000000004"/>
<rect x="87.50" y="567.10" width="30.50" height="30.80" fill="none" stroke="#000" stroke-width="1.8"/>
<rect x="353.00" y="394.70" width="31.30" height="127.60" fill="none" stroke="#000" stroke-width="1.6"/>
<rect x="354.50" y="569.00" width="29.70" height="33.00" fill="none" stroke="#000" stroke-width="1.6"/>
</svg></body></html>
